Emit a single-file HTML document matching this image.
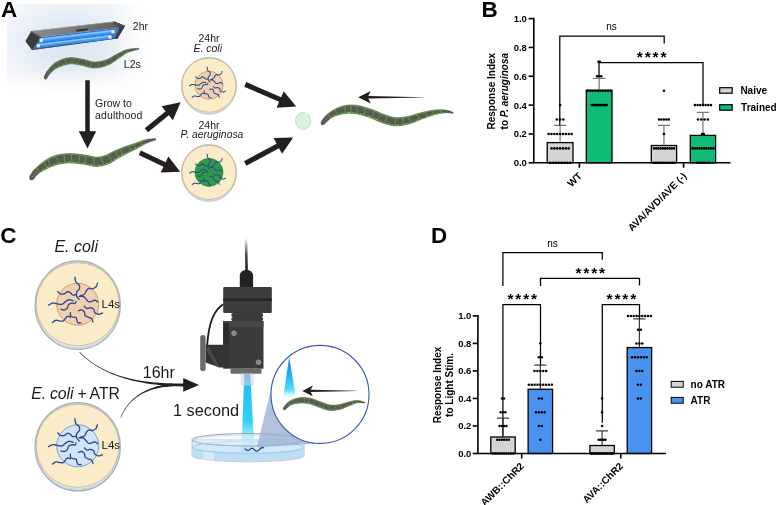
<!DOCTYPE html>
<html lang="en"><head><meta charset="utf-8"><title>Figure</title>
<style>html,body{margin:0;padding:0;background:#fff}svg{display:block}</style>
</head><body>
<svg width="777" height="505" viewBox="0 0 777 505" font-family="'Liberation Sans', Arial, sans-serif">
<defs>
<radialGradient id="glow" cx="44%" cy="42%" r="66%">
<stop offset="0" stop-color="#d9e5f1"/>
<stop offset="0.35" stop-color="#e2ebf4"/>
<stop offset="0.7" stop-color="#f0f4f9"/>
<stop offset="1" stop-color="#f9fbfd"/>
</radialGradient>
<linearGradient id="fadeR" x1="0" y1="0" x2="1" y2="0">
<stop offset="0" stop-color="#fff" stop-opacity="0"/>
<stop offset="0.85" stop-color="#fff" stop-opacity="1"/>
</linearGradient>
<linearGradient id="fadeB" x1="0" y1="0" x2="0" y2="1">
<stop offset="0" stop-color="#fff" stop-opacity="0"/>
<stop offset="0.85" stop-color="#fff" stop-opacity="1"/>
</linearGradient>
<linearGradient id="lamptop" x1="0" y1="0" x2="1" y2="0">
<stop offset="0" stop-color="#8a8a8a"/>
<stop offset="0.6" stop-color="#757575"/>
<stop offset="1" stop-color="#5a5a5a"/>
</linearGradient>
<linearGradient id="beam" x1="0" y1="0" x2="0" y2="1">
<stop offset="0" stop-color="#3a86f0"/>
<stop offset="0.06" stop-color="#2f9cf4"/>
<stop offset="0.13" stop-color="#1fc0f8"/>
<stop offset="0.7" stop-color="#2fd0fa"/>
<stop offset="0.9" stop-color="#7fe2fa" stop-opacity="0.9"/>
<stop offset="1" stop-color="#a5e9fa" stop-opacity="0.7"/>
</linearGradient>
<linearGradient id="beam2" x1="0" y1="0" x2="0" y2="1">
<stop offset="0" stop-color="#2d6ff0"/>
<stop offset="0.45" stop-color="#19b5f5"/>
<stop offset="0.8" stop-color="#5fdcfa"/>
<stop offset="1" stop-color="#ffffff" stop-opacity="0.2"/>
</linearGradient>
<linearGradient id="cable" x1="0" y1="0" x2="0" y2="1">
<stop offset="0" stop-color="#222" stop-opacity="0"/>
<stop offset="0.5" stop-color="#222" stop-opacity="0.8"/>
<stop offset="1" stop-color="#1a1a1a" stop-opacity="1"/>
</linearGradient>
<linearGradient id="tube" x1="0" y1="0" x2="0" y2="1">
<stop offset="0" stop-color="#6db6ff"/>
<stop offset="0.5" stop-color="#2a86ee"/>
<stop offset="1" stop-color="#1d6fd6"/>
</linearGradient>
</defs>
<rect width="777" height="505" fill="#fff"/>
<!-- Panel A -->
<rect x="7" y="4" width="146" height="94" fill="url(#glow)"/>
<rect x="112" y="3" width="42" height="96" fill="url(#fadeR)"/>
<rect x="6" y="70" width="148" height="29" fill="url(#fadeB)"/>
<g>
<polygon points="41.2,37 119.2,27.7 114.8,38.8 32,50.1 30,46" fill="#3576d0"/>
<polygon points="32,50.1 117.7,38.4 117.5,37.6 31.6,49.3" fill="#4a4a4a"/>
<polygon points="31.3,30.9 114.2,21.4 125.1,26 119.2,27.7 41.2,37" fill="url(#lamptop)"/>
<polygon points="31.3,30.9 114.2,21.4 114.6,22 32,31.6" fill="#a9a9a9"/>
<polygon points="31.3,30.9 41.2,37 32,50.1 25.4,41.2" fill="#3b3b3b"/>
<polygon points="31.3,30.9 41.2,37 40.4,38 30.6,32" fill="#555"/>
<polygon points="114.2,21.4 125.1,26 117.7,38.4 114.6,38.8 119.2,27.7" fill="#3b3b3b"/>
<polygon points="114.2,21.4 125.1,26 119.2,27.7 113.6,23.6" fill="#4d4d4d"/>
<rect x="-6" y="-0.85" width="12" height="1.7" rx="0.85" transform="translate(82 30) rotate(-6.6)" fill="#2b2b2b"/>
<path d="M41.2 40.3 L112.9 31.75" stroke="#479ff5" stroke-width="3.9" stroke-linecap="butt"/>
<path d="M38.4 45.6 L110 37.05" stroke="#479ff5" stroke-width="3.9" stroke-linecap="butt"/>
<path d="M41.1 39.3 L112.8 30.75" stroke="#84c4fc" stroke-width="1.4" />
<path d="M38.3 44.6 L109.9 36.05" stroke="#84c4fc" stroke-width="1.4" />
<path d="M41.4 41.9 L113.1 33.35" stroke="#2f7cdc" stroke-width="0.8" />
<path d="M38.6 47.2 L110.2 38.65" stroke="#2f7cdc" stroke-width="0.8" />
<path d="M39.6 40.5 L42.7 40.13 M111.5 31.92 L114.7 31.54 M36.8 45.8 L39.9 45.43 M108.5 37.23 L111.6 36.86" stroke="#ececec" stroke-width="3.3"/>
</g>
<g>
<path d="M44.9 79.2 L45.5 79.3 L45.82 79.22 L46.09 79.09 L46.34 78.92 L46.57 78.73 L46.79 78.52 L46.99 78.29 L47.17 78.03 L47.34 77.76 L47.5 77.47 L47.65 77.17 L47.8 76.87 L47.97 76.56 L48.14 76.25 L48.31 75.94 L48.5 75.64 L48.69 75.33 L48.89 75.03 L49.09 74.74 L49.3 74.45 L49.51 74.18 L49.73 73.92 L49.95 73.67 L50.18 73.42 L50.43 73.16 L50.71 72.88 L50.99 72.6 L51.27 72.32 L51.56 72.04 L51.86 71.76 L52.17 71.47 L52.48 71.19 L52.79 70.92 L53.11 70.64 L53.44 70.37 L53.78 70.1 L54.11 69.84 L54.46 69.58 L54.81 69.33 L55.16 69.09 L55.52 68.85 L55.88 68.62 L56.24 68.39 L56.61 68.18 L56.99 67.97 L57.36 67.78 L57.74 67.59 L58.13 67.41 L58.54 67.23 L58.98 67.04 L59.42 66.86 L59.88 66.67 L60.35 66.49 L60.84 66.31 L61.33 66.13 L61.82 65.95 L62.33 65.77 L62.84 65.6 L63.35 65.43 L63.86 65.27 L64.38 65.11 L64.9 64.95 L65.41 64.8 L65.92 64.66 L66.44 64.52 L66.94 64.39 L67.44 64.28 L67.94 64.18 L68.43 64.08 L68.91 64 L69.37 63.94 L69.82 63.88 L70.26 63.84 L70.69 63.82 L71.13 63.81 L71.57 63.81 L72.01 63.82 L72.47 63.84 L72.93 63.87 L73.39 63.92 L73.86 63.97 L74.34 64.03 L74.82 64.1 L75.31 64.18 L75.8 64.26 L76.3 64.35 L76.8 64.44 L77.31 64.54 L77.83 64.64 L78.35 64.75 L78.87 64.85 L79.41 64.96 L79.94 65.06 L80.49 65.16 L81.04 65.26 L81.56 65.35 L82.04 65.44 L82.51 65.53 L82.98 65.64 L83.46 65.75 L83.94 65.88 L84.44 66.01 L84.94 66.15 L85.45 66.29 L85.97 66.44 L86.49 66.59 L87.03 66.75 L87.57 66.9 L88.11 67.05 L88.67 67.2 L89.23 67.34 L89.81 67.48 L90.39 67.6 L90.98 67.72 L91.57 67.82 L92.18 67.91 L92.8 67.98 L93.42 68.04 L94.06 68.07 L94.69 68.07 L95.3 68.06 L95.9 68.04 L96.49 68 L97.09 67.94 L97.68 67.88 L98.27 67.8 L98.86 67.71 L99.45 67.61 L100.04 67.5 L100.62 67.38 L101.2 67.25 L101.77 67.11 L102.35 66.96 L102.91 66.81 L103.48 66.64 L104.04 66.47 L104.59 66.3 L105.14 66.11 L105.68 65.92 L106.22 65.73 L106.75 65.53 L107.27 65.33 L107.79 65.12 L108.31 64.9 L108.85 64.66 L109.39 64.41 L109.92 64.15 L110.44 63.87 L110.95 63.58 L111.46 63.29 L111.95 62.99 L112.43 62.68 L112.91 62.37 L113.38 62.06 L113.84 61.74 L114.29 61.42 L114.74 61.1 L115.18 60.79 L115.61 60.47 L116.03 60.16 L116.45 59.86 L116.86 59.56 L117.27 59.26 L117.67 58.97 L118.06 58.7 L118.44 58.43 L118.82 58.17 L119.2 57.92 L119.6 57.66 L120 57.4 L120.39 57.13 L120.77 56.87 L121.14 56.62 L121.49 56.36 L121.84 56.11 L122.19 55.87 L122.53 55.63 L122.86 55.39 L123.19 55.16 L123.51 54.93 L123.84 54.71 L124.16 54.49 L124.48 54.27 L124.81 54.06 L125.13 53.86 L125.46 53.65 L125.8 53.46 L126.14 53.27 L126.49 53.08 L126.85 52.89 L127.22 52.71 L127.6 52.54 L128 52.36 L128.43 52.19 L128.89 52.02 L129.37 51.85 L129.87 51.68 L130.39 51.51 L130.93 51.34 L131.47 51.18 L132.02 51.02 L132.58 50.86 L133.13 50.7 L133.68 50.55 L134.23 50.4 L134.76 50.26 L135.28 50.12 L135.79 49.99 L136.28 49.86 L136.74 49.74 L137.18 49.63 L137.59 49.52 L137.97 49.42 L138.32 49.32 L138.63 49.24 L138.89 49.16 L138.71 48.24 L138.44 48.27 L138.13 48.29 L137.79 48.32 L137.4 48.34 L136.98 48.37 L136.53 48.4 L136.05 48.43 L135.54 48.47 L135.02 48.5 L134.47 48.54 L133.91 48.59 L133.34 48.64 L132.76 48.69 L132.18 48.75 L131.59 48.81 L131 48.87 L130.41 48.95 L129.83 49.03 L129.25 49.11 L128.69 49.21 L128.14 49.31 L127.61 49.42 L127.09 49.54 L126.6 49.66 L126.13 49.8 L125.67 49.94 L125.22 50.09 L124.79 50.25 L124.36 50.41 L123.94 50.58 L123.53 50.75 L123.13 50.93 L122.73 51.11 L122.34 51.3 L121.96 51.49 L121.58 51.68 L121.2 51.88 L120.82 52.08 L120.45 52.27 L120.08 52.47 L119.71 52.67 L119.33 52.87 L118.96 53.07 L118.58 53.27 L118.19 53.47 L117.81 53.67 L117.41 53.87 L117 54.08 L116.55 54.3 L116.09 54.55 L115.64 54.79 L115.18 55.05 L114.73 55.3 L114.27 55.57 L113.82 55.83 L113.37 56.1 L112.91 56.36 L112.46 56.63 L112.01 56.89 L111.56 57.15 L111.11 57.41 L110.66 57.66 L110.21 57.91 L109.77 58.15 L109.32 58.38 L108.88 58.6 L108.44 58.81 L108.01 59.02 L107.57 59.21 L107.15 59.38 L106.72 59.55 L106.29 59.7 L105.83 59.85 L105.35 60.01 L104.87 60.16 L104.39 60.31 L103.9 60.46 L103.42 60.6 L102.92 60.73 L102.43 60.86 L101.94 60.98 L101.44 61.1 L100.95 61.21 L100.45 61.31 L99.96 61.41 L99.46 61.5 L98.97 61.58 L98.48 61.66 L98 61.72 L97.51 61.78 L97.03 61.83 L96.55 61.87 L96.08 61.9 L95.62 61.92 L95.16 61.93 L94.71 61.93 L94.29 61.91 L93.88 61.88 L93.45 61.84 L93.02 61.79 L92.58 61.72 L92.12 61.63 L91.66 61.54 L91.19 61.43 L90.72 61.32 L90.23 61.2 L89.74 61.07 L89.23 60.93 L88.72 60.78 L88.21 60.63 L87.68 60.48 L87.15 60.33 L86.61 60.18 L86.06 60.03 L85.51 59.88 L84.94 59.73 L84.37 59.6 L83.79 59.47 L83.21 59.35 L82.64 59.25 L82.11 59.16 L81.61 59.07 L81.11 58.97 L80.6 58.87 L80.08 58.77 L79.56 58.67 L79.03 58.56 L78.5 58.46 L77.96 58.35 L77.41 58.25 L76.86 58.15 L76.31 58.06 L75.75 57.97 L75.18 57.89 L74.6 57.81 L74.02 57.75 L73.44 57.69 L72.85 57.65 L72.25 57.62 L71.64 57.61 L71.03 57.61 L70.42 57.62 L69.8 57.66 L69.18 57.72 L68.56 57.79 L67.95 57.88 L67.34 57.98 L66.73 58.09 L66.12 58.22 L65.51 58.36 L64.89 58.51 L64.28 58.68 L63.67 58.85 L63.07 59.04 L62.47 59.23 L61.87 59.44 L61.29 59.66 L60.71 59.89 L60.13 60.13 L59.57 60.38 L59.02 60.64 L58.47 60.9 L57.94 61.17 L57.42 61.45 L56.91 61.73 L56.42 62.01 L55.94 62.3 L55.47 62.59 L55 62.89 L54.54 63.21 L54.09 63.54 L53.66 63.88 L53.23 64.22 L52.82 64.57 L52.43 64.92 L52.04 65.28 L51.67 65.65 L51.3 66.01 L50.95 66.38 L50.61 66.75 L50.28 67.11 L49.96 67.48 L49.65 67.85 L49.35 68.21 L49.05 68.57 L48.77 68.93 L48.49 69.29 L48.22 69.64 L47.96 69.98 L47.71 70.32 L47.47 70.65 L47.22 70.98 L46.97 71.34 L46.72 71.71 L46.48 72.09 L46.25 72.46 L46.04 72.84 L45.83 73.22 L45.64 73.6 L45.45 73.98 L45.27 74.35 L45.1 74.72 L44.94 75.08 L44.78 75.43 L44.64 75.77 L44.49 76.11 L44.37 76.43 L44.28 76.75 L44.21 77.07 L44.18 77.37 L44.17 77.67 L44.18 77.96 L44.23 78.23 L44.32 78.5 L44.46 78.78 L44.9 79.2Z" fill="#5a5759" stroke="#484648" stroke-width="0.5" stroke-linejoin="round"/>
<path d="M50.6 72.53 L51.48 71.66 L52.37 70.83 L53.27 70.04 L54.2 69.31 L55.17 68.61 L56.13 67.99 L57.09 67.44 L58.15 66.92 L59.22 66.45 L60.34 65.99 L61.47 65.57 L62.61 65.17 L63.72 64.8 L64.86 64.45 L66.01 64.12 L67.16 63.84 L68.31 63.6 L69.38 63.44 L70.49 63.33 L71.56 63.31 L72.72 63.36 L73.89 63.47 L75.04 63.63 L76.26 63.84 L77.47 64.07 L78.72 64.32 L79.99 64.57 L81.29 64.8 L82.45 65.02 L83.58 65.27 L84.77 65.59 L85.98 65.93 L87.22 66.29 L88.5 66.64 L89.81 66.97 L91.22 67.26 L92.63 67.47 L94.07 67.57 L95.56 67.56 L96.94 67.47 L98.35 67.3 L99.7 67.07 L101.03 66.8 L102.37 66.47 L103.66 66.1 L104.93 65.7 L106.21 65.25 L107.45 64.77 L108.76 64.22 L110 63.61 L111.19 62.95 L112.35 62.23 L113.45 61.51 L114.53 60.76 L115.57 60.01 L116.6 59.27 L117.61 58.56 L118.63 57.87 L119.71 57.17 L120.8 56.45 L121.85 55.71 L122.89 54.99 L123.91 54.3 L124.94 53.65 L125.98 53.05 L127.05 52.52 L128.14 52.05 L129.31 51.64 L130.49 51.27 L131.7 50.92" fill="none" stroke="#5ccc1f" stroke-width="0.42" stroke-linecap="round"/>
<path d="M48.08 70.35 L48.9 69.31 L49.75 68.27 L50.65 67.26 L51.6 66.26 L52.58 65.32 L53.66 64.41 L54.82 63.54 L55.98 62.8 L57.18 62.1 L58.37 61.48 L59.59 60.9 L60.82 60.37 L62.12 59.88 L63.4 59.45 L64.71 59.08 L66.04 58.75 L67.39 58.47 L68.84 58.26 L70.27 58.13 L71.76 58.11 L73.15 58.17 L74.51 58.3 L75.89 58.5 L77.19 58.72 L78.48 58.96 L79.73 59.21 L80.97 59.45 L82.19 59.67 L83.53 59.92 L84.89 60.23 L86.17 60.57 L87.42 60.92 L88.62 61.27 L89.81 61.6 L90.97 61.89 L92.06 62.13 L93.17 62.3 L94.27 62.4 L95.33 62.41 L96.5 62.36 L97.62 62.25 L98.8 62.1 L99.98 61.89 L101.13 61.66 L102.31 61.37 L103.48 61.06 L104.63 60.72 L105.8 60.34 L106.86 59.97 L107.95 59.52 L109.02 59.01 L110.07 58.46 L111.15 57.86 L112.23 57.23 L113.32 56.58 L114.42 55.92 L115.56 55.26 L116.72 54.62 L117.86 54.04 L118.96 53.45 L120.07 52.84 L121.21 52.22 L122.38 51.61 L123.59 51.03 L124.84 50.51 L126.12 50.06 L127.44 49.69 L128.74 49.42 L130.04 49.2 L131.32 49.02" fill="none" stroke="#5ccc1f" stroke-width="0.42" stroke-linecap="round"/>
<path d="M50.6 72.53Q49.38 71.4 47.88 70.62M55.56 68.35Q54.4 66.55 52.12 65.75M59.69 66.26Q59.07 63.87 57.08 62.16M66.07 64.1Q66.03 61.43 64.7 59.08M73.23 63.4Q73.46 60.81 74.16 58.26M77.81 64.14Q78.49 61.61 79.74 59.21M85.02 65.66Q86.02 63.23 86.86 60.76M90.46 67.11Q91.32 64.63 91.71 62.05M98.55 67.27Q97.59 64.82 98.65 62.12M105.81 65.39Q105.3 63.02 105.14 60.56M112.76 61.97Q112.06 59.83 110.24 58.37M118.34 58.06Q117.32 56.46 117.41 54.27M123.99 54.25Q122.78 53.16 121.61 52.01M128.08 52.08Q128.3 50.72 127.23 49.75" fill="none" stroke="#5ccc1f" stroke-width="0.42"/>
<g fill="#93e01f"><circle cx="54.13" cy="69.15" r="0.4"/><circle cx="52.63" cy="70.4" r="0.4"/><circle cx="57.66" cy="66.95" r="0.4"/><circle cx="63.17" cy="64.76" r="0.4"/><circle cx="63.16" cy="64.76" r="0.4"/><circle cx="70.56" cy="63.12" r="0.4"/><circle cx="76.67" cy="63.7" r="0.4"/><circle cx="82.43" cy="64.8" r="0.4"/><circle cx="79.83" cy="64.32" r="0.4"/><circle cx="89.53" cy="66.69" r="0.4"/><circle cx="94.98" cy="67.37" r="0.4"/><circle cx="95.77" cy="67.34" r="0.4"/><circle cx="102.88" cy="66.12" r="0.4"/><circle cx="108.17" cy="64.28" r="0.4"/><circle cx="107.42" cy="64.58" r="0.4"/><circle cx="116.9" cy="58.87" r="0.4"/><circle cx="119.48" cy="57.15" r="0.4"/><circle cx="125.68" cy="53.09" r="0.4"/><circle cx="46.37" cy="76.39" r="0.34"/><circle cx="47.33" cy="74.52" r="0.34"/><circle cx="48.36" cy="72.94" r="0.34"/></g>
</g>
<g font-size="10.5px" fill="#1a1a1a">
<text x="132.8" y="30.3">2hr</text>
<text x="123.8" y="67.5">L2s</text>
<text x="95" y="106.8">Grow to</text>
<text x="95" y="118.8" letter-spacing="0.15">adulthood</text>
<text x="209" y="42" text-anchor="middle">24hr</text>
<text x="207.7" y="51.7" text-anchor="middle" font-style="italic">E. coli</text>
<text x="209" y="128.6" text-anchor="middle">24hr</text>
<text x="212" y="137.7" text-anchor="middle" font-style="italic" font-size="10.4px">P. aeruginosa</text>
</g>
<polygon points="85.25,80.3 85.25,131.2 78.8,131.2 87.5,148.6 96.2,131.2 89.75,131.2 89.75,80.3" fill="#231f20"/>
<polygon points="148.02,132.27 168.83,115.23 172.85,120.15 180.6,102.3 161.58,106.37 165.6,111.29 144.78,128.33" fill="#231f20"/>
<polygon points="138.71,155.11 163.46,166.74 160.76,172.49 180.2,171.8 168.33,156.38 165.63,162.13 140.89,150.49" fill="#231f20"/>
<polygon points="244.19,86.74 279.12,101.81 276.57,107.73 296.2,106.4 283.7,91.2 281.14,97.13 246.21,82.06" fill="#231f20"/>
<polygon points="246.41,165.74 279.01,148.15 282.07,153.83 293.2,137.6 273.53,137.99 276.59,143.67 243.99,161.26" fill="#231f20"/>
<g>
<path d="M30.5 179.8 L31.33 180.09 L31.78 180.08 L32.17 179.99 L32.53 179.85 L32.88 179.68 L33.2 179.47 L33.5 179.24 L33.79 178.97 L34.06 178.69 L34.31 178.37 L34.54 178.04 L34.78 177.7 L35.02 177.36 L35.27 177.01 L35.53 176.67 L35.79 176.33 L36.06 176 L36.33 175.68 L36.61 175.36 L36.88 175.06 L37.16 174.78 L37.44 174.51 L37.72 174.26 L38 174.02 L38.29 173.78 L38.61 173.53 L38.95 173.28 L39.3 173.03 L39.67 172.78 L40.04 172.52 L40.43 172.27 L40.83 172.01 L41.23 171.76 L41.65 171.51 L42.07 171.26 L42.49 171.02 L42.92 170.77 L43.36 170.53 L43.79 170.29 L44.23 170.06 L44.66 169.83 L45.1 169.6 L45.53 169.38 L45.96 169.16 L46.38 168.95 L46.8 168.74 L47.22 168.54 L47.62 168.34 L48.02 168.15 L48.42 167.96 L48.81 167.78 L49.19 167.6 L49.57 167.42 L49.94 167.26 L50.31 167.09 L50.68 166.93 L51.04 166.78 L51.4 166.63 L51.76 166.48 L52.11 166.34 L52.46 166.2 L52.82 166.07 L53.17 165.94 L53.52 165.81 L53.87 165.69 L54.23 165.57 L54.58 165.45 L54.94 165.34 L55.3 165.23 L55.67 165.12 L56.04 165.01 L56.41 164.91 L56.79 164.81 L57.17 164.71 L57.56 164.61 L57.97 164.51 L58.38 164.41 L58.8 164.32 L59.22 164.22 L59.65 164.13 L60.08 164.04 L60.52 163.95 L60.96 163.86 L61.41 163.78 L61.85 163.7 L62.3 163.63 L62.75 163.56 L63.19 163.49 L63.63 163.43 L64.08 163.37 L64.51 163.31 L64.95 163.26 L65.38 163.21 L65.8 163.16 L66.21 163.12 L66.62 163.08 L67 163.05 L67.37 163.02 L67.74 163 L68.11 162.98 L68.47 162.97 L68.82 162.96 L69.18 162.95 L69.53 162.95 L69.89 162.95 L70.24 162.96 L70.6 162.97 L70.96 162.98 L71.32 162.99 L71.68 163.01 L72.05 163.03 L72.43 163.05 L72.8 163.07 L73.19 163.1 L73.58 163.13 L73.97 163.16 L74.38 163.19 L74.79 163.22 L75.21 163.25 L75.63 163.29 L76.03 163.32 L76.44 163.35 L76.85 163.39 L77.27 163.43 L77.69 163.48 L78.11 163.53 L78.54 163.58 L78.98 163.63 L79.41 163.68 L79.85 163.74 L80.3 163.8 L80.74 163.86 L81.19 163.92 L81.63 163.98 L82.08 164.05 L82.53 164.11 L82.98 164.18 L83.43 164.24 L83.87 164.31 L84.32 164.38 L84.77 164.44 L85.21 164.51 L85.65 164.58 L86.07 164.64 L86.45 164.7 L86.81 164.77 L87.18 164.84 L87.56 164.92 L87.94 165 L88.34 165.09 L88.74 165.19 L89.16 165.29 L89.58 165.39 L90.01 165.49 L90.45 165.6 L90.9 165.7 L91.36 165.81 L91.83 165.91 L92.3 166.01 L92.79 166.1 L93.29 166.19 L93.8 166.26 L94.32 166.33 L94.85 166.39 L95.4 166.44 L95.95 166.47 L96.52 166.48 L97.08 166.47 L97.61 166.45 L98.12 166.42 L98.63 166.38 L99.14 166.33 L99.64 166.27 L100.14 166.2 L100.63 166.12 L101.12 166.04 L101.61 165.94 L102.09 165.84 L102.57 165.73 L103.05 165.61 L103.52 165.49 L103.99 165.36 L104.45 165.23 L104.91 165.09 L105.37 164.94 L105.82 164.79 L106.27 164.64 L106.72 164.48 L107.16 164.31 L107.6 164.15 L108.04 163.98 L108.49 163.8 L108.97 163.6 L109.46 163.38 L109.94 163.16 L110.41 162.93 L110.88 162.69 L111.33 162.45 L111.77 162.2 L112.21 161.95 L112.64 161.7 L113.06 161.45 L113.48 161.19 L113.89 160.94 L114.29 160.68 L114.69 160.43 L115.08 160.18 L115.46 159.94 L115.84 159.69 L116.22 159.46 L116.59 159.22 L116.95 159 L117.31 158.78 L117.66 158.57 L118 158.36 L118.35 158.16 L118.72 157.95 L119.11 157.74 L119.49 157.52 L119.87 157.31 L120.25 157.1 L120.62 156.89 L121 156.68 L121.38 156.48 L121.76 156.27 L122.13 156.06 L122.51 155.86 L122.89 155.65 L123.26 155.45 L123.64 155.24 L124.01 155.04 L124.39 154.84 L124.77 154.64 L125.15 154.44 L125.52 154.23 L125.9 154.03 L126.28 153.83 L126.66 153.64 L127.04 153.44 L127.42 153.24 L127.8 153.04 L128.17 152.85 L128.55 152.66 L128.93 152.47 L129.31 152.28 L129.69 152.09 L130.08 151.9 L130.46 151.72 L130.85 151.53 L131.24 151.34 L131.64 151.15 L132.03 150.96 L132.42 150.77 L132.82 150.58 L133.22 150.39 L133.62 150.19 L134.03 150 L134.43 149.8 L134.84 149.6 L135.24 149.4 L135.65 149.19 L136.06 148.98 L136.47 148.77 L136.89 148.56 L137.31 148.34 L137.74 148.11 L138.16 147.88 L138.58 147.64 L139 147.41 L139.42 147.17 L139.83 146.93 L140.24 146.69 L140.66 146.45 L141.07 146.21 L141.48 145.97 L141.88 145.73 L142.29 145.49 L142.69 145.26 L143.09 145.03 L143.49 144.8 L143.89 144.58 L144.28 144.36 L144.67 144.15 L145.06 143.94 L145.44 143.74 L145.82 143.55 L146.2 143.36 L146.57 143.18 L146.95 143.01 L147.35 142.84 L147.76 142.67 L148.18 142.5 L148.62 142.33 L149.06 142.16 L149.5 142 L149.95 141.84 L150.4 141.68 L150.85 141.53 L151.3 141.38 L151.74 141.23 L152.17 141.09 L152.59 140.95 L153 140.82 L153.4 140.69 L153.78 140.57 L154.15 140.45 L154.49 140.34 L154.82 140.24 L155.12 140.14 L155.39 140.05 L155.64 139.96 L155.86 139.89 L155.54 138.51 L155.32 138.54 L155.07 138.56 L154.79 138.59 L154.49 138.61 L154.15 138.64 L153.79 138.67 L153.41 138.7 L153.01 138.74 L152.59 138.78 L152.15 138.82 L151.7 138.86 L151.24 138.91 L150.77 138.96 L150.29 139.01 L149.8 139.07 L149.31 139.13 L148.81 139.2 L148.32 139.27 L147.82 139.35 L147.33 139.43 L146.85 139.51 L146.36 139.61 L145.89 139.71 L145.43 139.82 L144.97 139.93 L144.51 140.05 L144.05 140.18 L143.59 140.32 L143.13 140.46 L142.67 140.61 L142.21 140.76 L141.75 140.91 L141.3 141.07 L140.84 141.23 L140.38 141.39 L139.93 141.56 L139.48 141.73 L139.03 141.89 L138.58 142.06 L138.13 142.22 L137.69 142.39 L137.25 142.55 L136.82 142.71 L136.39 142.86 L135.96 143.02 L135.54 143.16 L135.12 143.3 L134.71 143.44 L134.29 143.58 L133.87 143.72 L133.46 143.85 L133.04 143.98 L132.62 144.12 L132.2 144.25 L131.78 144.38 L131.36 144.51 L130.94 144.64 L130.52 144.77 L130.1 144.91 L129.68 145.04 L129.26 145.17 L128.84 145.31 L128.42 145.44 L127.99 145.58 L127.57 145.72 L127.15 145.86 L126.72 146 L126.29 146.15 L125.86 146.3 L125.44 146.45 L125.01 146.6 L124.58 146.76 L124.15 146.92 L123.73 147.08 L123.32 147.23 L122.9 147.39 L122.48 147.55 L122.07 147.72 L121.65 147.88 L121.24 148.04 L120.83 148.21 L120.41 148.37 L120 148.54 L119.59 148.71 L119.18 148.88 L118.77 149.05 L118.36 149.22 L117.95 149.4 L117.54 149.57 L117.13 149.75 L116.72 149.93 L116.3 150.11 L115.89 150.29 L115.48 150.47 L115.07 150.65 L114.65 150.84 L114.2 151.05 L113.75 151.26 L113.31 151.48 L112.87 151.7 L112.44 151.92 L112.01 152.15 L111.59 152.37 L111.17 152.59 L110.76 152.81 L110.36 153.03 L109.96 153.24 L109.56 153.45 L109.17 153.66 L108.79 153.86 L108.41 154.05 L108.04 154.23 L107.68 154.41 L107.32 154.58 L106.97 154.74 L106.62 154.89 L106.29 155.04 L105.96 155.17 L105.64 155.29 L105.31 155.4 L104.95 155.52 L104.57 155.65 L104.2 155.77 L103.82 155.88 L103.45 156 L103.08 156.1 L102.72 156.21 L102.36 156.31 L102 156.4 L101.64 156.49 L101.28 156.57 L100.93 156.65 L100.58 156.72 L100.23 156.79 L99.89 156.85 L99.55 156.9 L99.21 156.95 L98.87 157 L98.54 157.03 L98.21 157.07 L97.88 157.09 L97.55 157.11 L97.23 157.12 L96.92 157.13 L96.64 157.12 L96.37 157.11 L96.09 157.09 L95.79 157.06 L95.49 157.03 L95.17 156.98 L94.84 156.93 L94.5 156.86 L94.14 156.79 L93.78 156.72 L93.4 156.63 L93.01 156.55 L92.61 156.45 L92.21 156.35 L91.78 156.25 L91.35 156.15 L90.91 156.04 L90.46 155.94 L89.99 155.83 L89.52 155.73 L89.03 155.63 L88.54 155.53 L88.03 155.44 L87.53 155.36 L87.07 155.29 L86.63 155.22 L86.18 155.15 L85.73 155.08 L85.27 155.01 L84.81 154.95 L84.35 154.88 L83.89 154.81 L83.42 154.74 L82.95 154.67 L82.48 154.61 L82.01 154.54 L81.54 154.48 L81.06 154.42 L80.59 154.36 L80.12 154.3 L79.65 154.24 L79.17 154.19 L78.7 154.13 L78.23 154.08 L77.76 154.04 L77.29 153.99 L76.83 153.95 L76.37 153.91 L75.94 153.88 L75.52 153.85 L75.1 153.82 L74.68 153.78 L74.26 153.75 L73.84 153.72 L73.42 153.69 L73 153.67 L72.57 153.64 L72.15 153.62 L71.72 153.6 L71.29 153.58 L70.86 153.57 L70.42 153.56 L69.98 153.55 L69.53 153.55 L69.08 153.55 L68.63 153.56 L68.17 153.57 L67.7 153.59 L67.23 153.61 L66.75 153.64 L66.27 153.68 L65.78 153.72 L65.3 153.76 L64.82 153.81 L64.33 153.87 L63.84 153.92 L63.34 153.98 L62.84 154.05 L62.33 154.12 L61.82 154.19 L61.3 154.27 L60.78 154.35 L60.26 154.44 L59.74 154.53 L59.22 154.63 L58.7 154.73 L58.18 154.83 L57.65 154.94 L57.13 155.06 L56.62 155.19 L56.1 155.32 L55.59 155.46 L55.08 155.61 L54.58 155.76 L54.08 155.92 L53.59 156.09 L53.11 156.27 L52.64 156.45 L52.18 156.64 L51.72 156.83 L51.27 157.02 L50.83 157.23 L50.39 157.44 L49.96 157.65 L49.54 157.87 L49.12 158.09 L48.7 158.32 L48.29 158.55 L47.88 158.78 L47.48 159.03 L47.08 159.27 L46.69 159.52 L46.29 159.77 L45.9 160.03 L45.51 160.29 L45.13 160.56 L44.74 160.83 L44.35 161.1 L43.97 161.38 L43.58 161.66 L43.18 161.95 L42.78 162.25 L42.38 162.55 L41.97 162.86 L41.56 163.18 L41.14 163.51 L40.72 163.84 L40.3 164.18 L39.88 164.52 L39.46 164.87 L39.04 165.22 L38.62 165.57 L38.2 165.93 L37.79 166.29 L37.38 166.65 L36.98 167.02 L36.58 167.38 L36.19 167.75 L35.8 168.12 L35.43 168.49 L35.06 168.86 L34.7 169.23 L34.35 169.6 L34 169.98 L33.66 170.37 L33.32 170.78 L32.99 171.2 L32.68 171.62 L32.38 172.05 L32.09 172.48 L31.8 172.9 L31.53 173.33 L31.26 173.75 L31.01 174.16 L30.76 174.57 L30.52 174.98 L30.29 175.37 L30.08 175.75 L29.9 176.14 L29.76 176.52 L29.65 176.91 L29.59 177.29 L29.56 177.66 L29.57 178.03 L29.62 178.4 L29.73 178.76 L29.92 179.15 L30.5 179.8Z" fill="#5a5759" stroke="#484648" stroke-width="0.5" stroke-linejoin="round"/>
<path d="M39.2 172.52 L40.5 171.63 L41.83 170.8 L43.21 169.99 L44.62 169.2 L46.04 168.45 L47.47 167.72 L48.9 167.02 L50.34 166.35 L51.74 165.74 L53.14 165.19 L54.53 164.71 L55.93 164.28 L57.34 163.9 L58.83 163.54 L60.34 163.22 L61.85 162.94 L63.41 162.7 L64.94 162.5 L66.51 162.34 L67.99 162.23 L69.48 162.2 L70.97 162.23 L72.54 162.3 L74.16 162.42 L75.79 162.54 L77.35 162.69 L78.95 162.87 L80.54 163.07 L82.16 163.3 L83.78 163.53 L85.41 163.78 L86.93 164.03 L88.39 164.33 L89.97 164.71 L91.69 165.11 L93.57 165.47 L95.62 165.7 L97.7 165.7 L99.65 165.52 L101.54 165.2 L103.32 164.78 L105.09 164.26 L106.81 163.67 L108.53 163.01 L110.29 162.19 L111.91 161.32 L113.4 160.43 L114.82 159.54 L116.2 158.68 L117.51 157.88 L118.91 157.11 L120.35 156.32 L121.79 155.54 L123.24 154.77 L124.69 154.01 L126.14 153.26 L127.58 152.53 L129.04 151.81 L130.52 151.11 L132.02 150.41 L133.53 149.69 L135.05 148.97 L136.58 148.22 L138.11 147.42 L139.59 146.6 L141.05 145.78 L142.48 144.97 L143.9 144.19 L145.32 143.46 L146.77 142.79" fill="none" stroke="#5ccc1f" stroke-width="0.65" stroke-linecap="round"/>
<path d="M35.98 168.62 L37.27 167.43 L38.61 166.28 L39.95 165.18 L41.31 164.11 L42.68 163.08 L44.09 162.06 L45.52 161.07 L46.99 160.12 L48.54 159.2 L50.15 158.35 L51.83 157.57 L53.57 156.89 L55.35 156.31 L57.08 155.85 L58.81 155.47 L60.58 155.15 L62.31 154.88 L64.07 154.65 L65.81 154.47 L67.65 154.35 L69.48 154.3 L71.31 154.34 L73.06 154.43 L74.76 154.54 L76.45 154.68 L78.2 154.84 L79.9 155.03 L81.61 155.25 L83.28 155.48 L84.95 155.73 L86.6 155.98 L88.38 156.26 L90.17 156.64 L91.82 157.03 L93.33 157.39 L94.72 157.67 L95.97 157.84 L97.22 157.87 L98.58 157.78 L99.97 157.59 L101.44 157.29 L102.87 156.92 L104.32 156.49 L105.72 156.02 L107 155.5 L108.35 154.87 L109.76 154.13 L111.21 153.35 L112.71 152.54 L114.31 151.72 L115.88 151 L117.42 150.31 L118.96 149.64 L120.52 148.99 L122.09 148.34 L123.66 147.72 L125.26 147.11 L126.86 146.53 L128.47 145.98 L130.06 145.45 L131.63 144.94 L133.2 144.42 L134.74 143.9 L136.25 143.36 L137.79 142.78 L139.35 142.18 L140.92 141.58 L142.53 141 L144.19 140.46 L145.87 140" fill="none" stroke="#5ccc1f" stroke-width="0.65" stroke-linecap="round"/>
<path d="M39.2 172.52Q37.9 170.31 36.74 167.91M46.58 168.17Q45.24 165.22 44.4 161.84M50.41 166.32Q48.71 163.21 48.46 159.25M58.54 163.61Q58.27 159.62 55.39 156.29M64.85 162.51Q63.99 158.64 64.12 154.65M72.01 162.27Q71.42 158.29 71.46 154.34M78.25 162.78Q79.39 158.94 80.08 155.05M85.14 163.74Q86.22 159.91 85.14 155.75M94.05 165.54Q93.93 161.53 93.69 157.47M103.76 164.66Q102.31 161.05 100.98 157.39M111.84 161.36Q110.62 157.82 107.74 155.16M118.08 157.56Q116.6 154.45 115.54 151.15M122.41 155.21Q121.68 151.97 120.22 149.11M131.18 150.8Q130.78 148.03 128.53 145.96M136.18 148.42Q134.75 146.44 133.25 144.41M141.98 145.25Q140.88 143.66 140.69 141.66" fill="none" stroke="#5ccc1f" stroke-width="0.65"/>
<g fill="#93e01f"><circle cx="43.15" cy="169.75" r="0.62"/><circle cx="47.95" cy="167.18" r="0.62"/><circle cx="47.87" cy="167.22" r="0.62"/><circle cx="54.2" cy="164.5" r="0.62"/><circle cx="60.21" cy="162.92" r="0.62"/><circle cx="69.43" cy="161.88" r="0.62"/><circle cx="74.09" cy="162.1" r="0.62"/><circle cx="83.89" cy="163.23" r="0.62"/><circle cx="91.47" cy="164.74" r="0.62"/><circle cx="99.4" cy="165.23" r="0.62"/><circle cx="107" cy="163.28" r="0.62"/><circle cx="116.41" cy="158.21" r="0.62"/><circle cx="114.75" cy="159.24" r="0.62"/><circle cx="119.16" cy="156.66" r="0.62"/><circle cx="121.51" cy="155.4" r="0.62"/><circle cx="124.33" cy="153.91" r="0.62"/><circle cx="135.11" cy="148.73" r="0.62"/><circle cx="138.44" cy="147.04" r="0.62"/><circle cx="32.89" cy="176.43" r="0.52"/><circle cx="34.46" cy="174.19" r="0.52"/><circle cx="36.06" cy="172.35" r="0.52"/></g>
</g>
<ellipse cx="209" cy="85.82" rx="27.6" ry="28.58" fill="#e6ebf2" stroke="#a3afc2" stroke-width="0.5"/>
<ellipse cx="209" cy="85.54" rx="27.4" ry="27.96" fill="none" stroke="#b4bfce" stroke-width="0.6"/>
<circle cx="209" cy="85.2" r="27.03" fill="#fbecc9" stroke="#c7a76c" stroke-width="0.7"/>
<circle cx="209" cy="85.2" r="14" fill="#efd0b0" stroke="#c98a5a" stroke-width="0.8"/>
<path d="M207.18 67.14 L207.22 67.49 L207.25 67.98 L207.3 68.56 L207.39 69.17 L207.52 69.75 L207.71 70.26 L208.01 70.67 L208.42 71.05 L208.87 71.39 L209.32 71.73 L209.7 72.08 L209.98 72.46 L210.15 72.87 L210.26 73.31 L210.31 73.76 L210.3 74.2 L210.24 74.62 L210.14 75.02 L209.94 75.37 L209.65 75.67 L209.31 75.96 L208.96 76.26 L208.66 76.58 L208.44 76.94 L208.3 77.36 L208.2 77.83 L208.14 78.32 L208.13 78.82 L208.17 79.3 L208.27 79.75 L208.47 80.18 L208.77 80.62 L209.12 81.04 L209.47 81.42 L209.77 81.74 L209.98 81.98M222.16 71.2 L222.06 71.5 L221.92 71.92 L221.76 72.41 L221.56 72.92 L221.33 73.39 L221.05 73.77 L220.7 74.07 L220.3 74.33 L219.85 74.55 L219.39 74.74 L218.94 74.88 L218.52 74.98 L218.13 75 L217.74 74.92 L217.36 74.81 L217 74.7 L216.65 74.64 L216.32 74.68 L216.02 74.82 L215.74 75.03 L215.48 75.29 L215.23 75.59 L214.98 75.91 L214.74 76.24 L214.52 76.61 L214.32 77.03 L214.13 77.47 L213.93 77.9 L213.69 78.29 L213.4 78.61 L213.01 78.85 L212.54 79.04 L212.03 79.18 L211.54 79.3 L211.12 79.38 L210.82 79.46M195.7 76.66 L195.91 76.87 L196.2 77.17 L196.54 77.52 L196.91 77.87 L197.31 78.16 L197.7 78.36 L198.11 78.45 L198.56 78.49 L199.03 78.47 L199.49 78.41 L199.93 78.31 L200.32 78.2 L200.65 78.03 L200.94 77.78 L201.21 77.49 L201.47 77.22 L201.74 77.01 L202.03 76.89 L202.36 76.87 L202.71 76.91 L203.07 77.01 L203.43 77.15 L203.78 77.32 L204.1 77.5 L204.38 77.73 L204.64 78.02 L204.88 78.34 L205.13 78.64 L205.39 78.9 L205.68 79.06 L206.04 79.11 L206.45 79.09 L206.88 79.01 L207.29 78.91 L207.63 78.81 L207.88 78.76M189.54 85.76 L189.87 85.59 L190.32 85.34 L190.86 85.06 L191.44 84.78 L192.03 84.56 L192.58 84.44 L193.12 84.43 L193.67 84.52 L194.23 84.65 L194.78 84.81 L195.32 84.96 L195.84 85.06 L196.34 85.14 L196.83 85.22 L197.31 85.29 L197.77 85.33 L198.22 85.31 L198.65 85.23 L199.05 85.05 L199.43 84.78 L199.79 84.47 L200.15 84.13 L200.51 83.8 L200.88 83.52 L201.27 83.26 L201.65 82.98 L202.05 82.71 L202.44 82.48 L202.85 82.3 L203.27 82.2 L203.72 82.2 L204.23 82.29 L204.74 82.43 L205.22 82.59 L205.63 82.73 L205.92 82.82M197.8 88.56 L198.06 88.63 L198.43 88.75 L198.87 88.88 L199.33 88.99 L199.79 89.05 L200.19 89.03 L200.55 88.9 L200.91 88.72 L201.25 88.47 L201.58 88.19 L201.88 87.89 L202.14 87.58 L202.34 87.24 L202.48 86.84 L202.59 86.42 L202.7 86.01 L202.85 85.63 L203.07 85.33 L203.38 85.1 L203.76 84.91 L204.17 84.76 L204.59 84.64 L205 84.56 L205.36 84.5 L205.69 84.5 L206 84.57 L206.3 84.67 L206.58 84.75 L206.83 84.79 L207.06 84.75 L207.26 84.58 L207.43 84.32 L207.58 84.01 L207.7 83.7 L207.8 83.42 L207.88 83.24M209.98 80.02 L210.29 80.01 L210.72 79.97 L211.23 79.94 L211.77 79.93 L212.29 79.98 L212.73 80.09 L213.12 80.31 L213.47 80.6 L213.81 80.94 L214.13 81.31 L214.44 81.66 L214.74 81.98 L215.02 82.28 L215.28 82.59 L215.52 82.9 L215.76 83.17 L216.03 83.39 L216.32 83.54 L216.65 83.6 L217.01 83.59 L217.39 83.53 L217.78 83.44 L218.16 83.33 L218.52 83.24 L218.87 83.13 L219.22 82.97 L219.57 82.8 L219.9 82.65 L220.23 82.56 L220.55 82.55 L220.88 82.66 L221.22 82.87 L221.55 83.13 L221.86 83.4 L222.11 83.64 L222.3 83.8M213.48 86.6 L213.65 86.78 L213.89 87.04 L214.17 87.35 L214.48 87.65 L214.8 87.89 L215.12 88.04 L215.45 88.06 L215.79 87.98 L216.15 87.84 L216.52 87.7 L216.89 87.6 L217.26 87.58 L217.65 87.64 L218.07 87.73 L218.49 87.87 L218.89 88.04 L219.26 88.25 L219.56 88.5 L219.78 88.81 L219.91 89.21 L220.01 89.64 L220.11 90.07 L220.25 90.47 L220.48 90.8 L220.8 91.08 L221.18 91.33 L221.61 91.56 L222.06 91.73 L222.51 91.86 L222.95 91.92 L223.4 91.88 L223.89 91.75 L224.39 91.57 L224.85 91.37 L225.24 91.19 L225.52 91.08M209.56 89.54 L209.8 89.46 L210.14 89.33 L210.53 89.18 L210.95 89.06 L211.36 88.99 L211.73 89 L212.06 89.11 L212.39 89.28 L212.71 89.51 L213.01 89.78 L213.27 90.07 L213.48 90.38 L213.61 90.73 L213.67 91.13 L213.69 91.55 L213.72 91.98 L213.79 92.37 L213.94 92.7 L214.19 92.97 L214.5 93.19 L214.86 93.38 L215.24 93.55 L215.62 93.71 L216 93.88 L216.39 94.03 L216.8 94.15 L217.22 94.27 L217.63 94.4 L218 94.57 L218.3 94.8 L218.55 95.13 L218.75 95.55 L218.91 96.01 L219.03 96.45 L219.14 96.83 L219.22 97.1M204.1 90.8 L204.11 91.04 L204.1 91.38 L204.1 91.78 L204.13 92.2 L204.2 92.58 L204.34 92.89 L204.56 93.13 L204.84 93.33 L205.17 93.5 L205.53 93.65 L205.88 93.77 L206.2 93.88 L206.51 93.95 L206.84 93.96 L207.17 93.96 L207.48 93.96 L207.75 94.01 L207.97 94.12 L208.11 94.32 L208.2 94.59 L208.26 94.89 L208.3 95.21 L208.35 95.54 L208.44 95.84 L208.55 96.15 L208.66 96.48 L208.78 96.81 L208.92 97.12 L209.1 97.38 L209.31 97.57 L209.59 97.68 L209.94 97.73 L210.33 97.72 L210.7 97.7 L211.02 97.67 L211.24 97.66M192.2 97.38 L192.44 97.2 L192.77 96.93 L193.16 96.63 L193.59 96.32 L194.03 96.08 L194.46 95.93 L194.88 95.9 L195.32 95.96 L195.78 96.08 L196.23 96.21 L196.67 96.33 L197.1 96.4 L197.51 96.44 L197.93 96.49 L198.33 96.53 L198.72 96.53 L199.08 96.49 L199.42 96.37 L199.71 96.17 L199.97 95.89 L200.2 95.56 L200.43 95.21 L200.65 94.87 L200.88 94.58 L201.11 94.31 L201.34 94.04 L201.56 93.78 L201.79 93.55 L202.02 93.37 L202.28 93.27 L202.58 93.27 L202.92 93.36 L203.28 93.49 L203.61 93.65 L203.9 93.79 L204.1 93.88" fill="none" stroke="#2a4a90" stroke-width="1.05" stroke-linecap="round" stroke-linejoin="round"/>
<ellipse cx="209" cy="173.02" rx="27.6" ry="28.58" fill="#e6ebf2" stroke="#a3afc2" stroke-width="0.5"/>
<ellipse cx="209" cy="172.74" rx="27.4" ry="27.96" fill="none" stroke="#b4bfce" stroke-width="0.6"/>
<circle cx="209" cy="172.4" r="27.03" fill="#fbecc9" stroke="#c7a76c" stroke-width="0.7"/>
<circle cx="209" cy="172.4" r="14" fill="#2f9a4a" stroke="#2a8a42" stroke-width="0.8"/>
<path d="M207.18 154.34 L207.22 154.69 L207.25 155.18 L207.3 155.76 L207.39 156.37 L207.52 156.95 L207.71 157.46 L208.01 157.87 L208.42 158.25 L208.87 158.59 L209.32 158.93 L209.7 159.28 L209.98 159.66 L210.15 160.07 L210.26 160.51 L210.31 160.96 L210.3 161.4 L210.24 161.82 L210.14 162.22 L209.94 162.57 L209.65 162.87 L209.31 163.16 L208.96 163.46 L208.66 163.78 L208.44 164.14 L208.3 164.56 L208.2 165.03 L208.14 165.52 L208.13 166.02 L208.17 166.5 L208.27 166.95 L208.47 167.38 L208.77 167.82 L209.12 168.24 L209.47 168.62 L209.77 168.94 L209.98 169.18M222.16 158.4 L222.06 158.7 L221.92 159.12 L221.76 159.61 L221.56 160.12 L221.33 160.59 L221.05 160.97 L220.7 161.27 L220.3 161.53 L219.85 161.75 L219.39 161.94 L218.94 162.08 L218.52 162.18 L218.13 162.2 L217.74 162.12 L217.36 162.01 L217 161.9 L216.65 161.84 L216.32 161.88 L216.02 162.02 L215.74 162.23 L215.48 162.49 L215.23 162.79 L214.98 163.11 L214.74 163.44 L214.52 163.81 L214.32 164.23 L214.13 164.67 L213.93 165.1 L213.69 165.49 L213.4 165.81 L213.01 166.05 L212.54 166.24 L212.03 166.38 L211.54 166.5 L211.12 166.58 L210.82 166.66M195.7 163.86 L195.91 164.07 L196.2 164.37 L196.54 164.72 L196.91 165.07 L197.31 165.36 L197.7 165.56 L198.11 165.65 L198.56 165.69 L199.03 165.67 L199.49 165.61 L199.93 165.51 L200.32 165.4 L200.65 165.23 L200.94 164.98 L201.21 164.69 L201.47 164.42 L201.74 164.21 L202.03 164.09 L202.36 164.07 L202.71 164.11 L203.07 164.21 L203.43 164.35 L203.78 164.52 L204.1 164.7 L204.38 164.93 L204.64 165.22 L204.88 165.54 L205.13 165.84 L205.39 166.1 L205.68 166.26 L206.04 166.31 L206.45 166.29 L206.88 166.21 L207.29 166.11 L207.63 166.01 L207.88 165.96M189.54 172.96 L189.87 172.79 L190.32 172.54 L190.86 172.26 L191.44 171.98 L192.03 171.76 L192.58 171.64 L193.12 171.63 L193.67 171.72 L194.23 171.85 L194.78 172.01 L195.32 172.16 L195.84 172.26 L196.34 172.34 L196.83 172.42 L197.31 172.49 L197.77 172.53 L198.22 172.51 L198.65 172.43 L199.05 172.25 L199.43 171.98 L199.79 171.67 L200.15 171.33 L200.51 171 L200.88 170.72 L201.27 170.46 L201.65 170.18 L202.05 169.91 L202.44 169.68 L202.85 169.5 L203.27 169.4 L203.72 169.4 L204.23 169.49 L204.74 169.63 L205.22 169.79 L205.63 169.93 L205.92 170.02M197.8 175.76 L198.06 175.83 L198.43 175.95 L198.87 176.08 L199.33 176.19 L199.79 176.25 L200.19 176.23 L200.55 176.1 L200.91 175.92 L201.25 175.67 L201.58 175.39 L201.88 175.09 L202.14 174.78 L202.34 174.44 L202.48 174.04 L202.59 173.62 L202.7 173.21 L202.85 172.83 L203.07 172.53 L203.38 172.3 L203.76 172.11 L204.17 171.96 L204.59 171.84 L205 171.76 L205.36 171.7 L205.69 171.7 L206 171.77 L206.3 171.87 L206.58 171.95 L206.83 171.99 L207.06 171.95 L207.26 171.78 L207.43 171.52 L207.58 171.21 L207.7 170.9 L207.8 170.62 L207.88 170.44M209.98 167.22 L210.29 167.21 L210.72 167.17 L211.23 167.14 L211.77 167.13 L212.29 167.18 L212.73 167.29 L213.12 167.51 L213.47 167.8 L213.81 168.14 L214.13 168.51 L214.44 168.86 L214.74 169.18 L215.02 169.48 L215.28 169.79 L215.52 170.1 L215.76 170.37 L216.03 170.59 L216.32 170.74 L216.65 170.8 L217.01 170.79 L217.39 170.73 L217.78 170.64 L218.16 170.53 L218.52 170.44 L218.87 170.33 L219.22 170.17 L219.57 170 L219.9 169.85 L220.23 169.76 L220.55 169.75 L220.88 169.86 L221.22 170.07 L221.55 170.33 L221.86 170.6 L222.11 170.84 L222.3 171M213.48 173.8 L213.65 173.98 L213.89 174.24 L214.17 174.55 L214.48 174.85 L214.8 175.09 L215.12 175.24 L215.45 175.26 L215.79 175.18 L216.15 175.04 L216.52 174.9 L216.89 174.8 L217.26 174.78 L217.65 174.84 L218.07 174.93 L218.49 175.07 L218.89 175.24 L219.26 175.45 L219.56 175.7 L219.78 176.01 L219.91 176.41 L220.01 176.84 L220.11 177.27 L220.25 177.67 L220.48 178 L220.8 178.28 L221.18 178.53 L221.61 178.76 L222.06 178.93 L222.51 179.06 L222.95 179.12 L223.4 179.08 L223.89 178.95 L224.39 178.77 L224.85 178.57 L225.24 178.39 L225.52 178.28M209.56 176.74 L209.8 176.66 L210.14 176.53 L210.53 176.38 L210.95 176.26 L211.36 176.19 L211.73 176.2 L212.06 176.31 L212.39 176.48 L212.71 176.71 L213.01 176.98 L213.27 177.27 L213.48 177.58 L213.61 177.93 L213.67 178.33 L213.69 178.75 L213.72 179.18 L213.79 179.57 L213.94 179.9 L214.19 180.17 L214.5 180.39 L214.86 180.58 L215.24 180.75 L215.62 180.91 L216 181.08 L216.39 181.23 L216.8 181.35 L217.22 181.47 L217.63 181.6 L218 181.77 L218.3 182 L218.55 182.33 L218.75 182.75 L218.91 183.21 L219.03 183.65 L219.14 184.03 L219.22 184.3M204.1 178 L204.11 178.24 L204.1 178.58 L204.1 178.98 L204.13 179.4 L204.2 179.78 L204.34 180.09 L204.56 180.33 L204.84 180.53 L205.17 180.7 L205.53 180.85 L205.88 180.97 L206.2 181.08 L206.51 181.15 L206.84 181.16 L207.17 181.16 L207.48 181.16 L207.75 181.21 L207.97 181.32 L208.11 181.52 L208.2 181.79 L208.26 182.09 L208.3 182.41 L208.35 182.74 L208.44 183.04 L208.55 183.35 L208.66 183.68 L208.78 184.01 L208.92 184.32 L209.1 184.58 L209.31 184.77 L209.59 184.88 L209.94 184.93 L210.33 184.92 L210.7 184.9 L211.02 184.87 L211.24 184.86M192.2 184.58 L192.44 184.4 L192.77 184.13 L193.16 183.83 L193.59 183.52 L194.03 183.28 L194.46 183.13 L194.88 183.1 L195.32 183.16 L195.78 183.28 L196.23 183.41 L196.67 183.53 L197.1 183.6 L197.51 183.64 L197.93 183.69 L198.33 183.73 L198.72 183.73 L199.08 183.69 L199.42 183.57 L199.71 183.37 L199.97 183.09 L200.2 182.76 L200.43 182.41 L200.65 182.07 L200.88 181.78 L201.11 181.51 L201.34 181.24 L201.56 180.98 L201.79 180.75 L202.02 180.57 L202.28 180.47 L202.58 180.47 L202.92 180.56 L203.28 180.69 L203.61 180.85 L203.9 180.99 L204.1 181.08" fill="none" stroke="#2a4a90" stroke-width="1.05" stroke-linecap="round" stroke-linejoin="round"/>
<ellipse cx="303.2" cy="121" rx="7.7" ry="8.6" fill="#d8f2e1" stroke="#a8d9b9" stroke-width="0.7"/>
<g>
<path d="M321.5 124.5 L322.33 124.86 L322.82 124.85 L323.28 124.74 L323.71 124.57 L324.12 124.35 L324.52 124.09 L324.9 123.78 L325.26 123.43 L325.6 123.05 L325.95 122.65 L326.32 122.25 L326.69 121.84 L327.07 121.43 L327.47 121.03 L327.87 120.63 L328.28 120.24 L328.69 119.86 L329.1 119.49 L329.52 119.14 L329.94 118.81 L330.35 118.51 L330.75 118.23 L331.14 117.98 L331.54 117.75 L331.96 117.53 L332.4 117.29 L332.86 117.07 L333.34 116.84 L333.83 116.63 L334.33 116.41 L334.84 116.2 L335.35 116 L335.88 115.81 L336.41 115.62 L336.95 115.43 L337.49 115.26 L338.04 115.09 L338.58 114.93 L339.13 114.77 L339.68 114.62 L340.22 114.48 L340.76 114.35 L341.3 114.23 L341.83 114.11 L342.35 114.01 L342.86 113.91 L343.37 113.82 L343.86 113.74 L344.35 113.67 L344.84 113.6 L345.32 113.54 L345.79 113.49 L346.27 113.45 L346.73 113.41 L347.2 113.37 L347.66 113.35 L348.13 113.33 L348.59 113.31 L349.06 113.3 L349.52 113.3 L349.99 113.3 L350.46 113.31 L350.93 113.32 L351.41 113.33 L351.89 113.35 L352.38 113.38 L352.88 113.41 L353.38 113.45 L353.89 113.49 L354.41 113.54 L354.93 113.6 L355.45 113.66 L355.97 113.74 L356.49 113.82 L357.03 113.92 L357.59 114.03 L358.16 114.15 L358.75 114.28 L359.35 114.42 L359.95 114.57 L360.57 114.73 L361.18 114.9 L361.81 115.08 L362.43 115.26 L363.06 115.44 L363.69 115.63 L364.31 115.83 L364.94 116.02 L365.56 116.22 L366.17 116.42 L366.78 116.62 L367.37 116.81 L367.96 117.01 L368.54 117.2 L369.11 117.4 L369.65 117.58 L370.14 117.75 L370.6 117.91 L371.05 118.08 L371.5 118.26 L371.94 118.44 L372.37 118.62 L372.8 118.81 L373.22 119 L373.65 119.19 L374.08 119.39 L374.51 119.59 L374.94 119.8 L375.38 120 L375.82 120.21 L376.28 120.42 L376.74 120.63 L377.21 120.84 L377.69 121.06 L378.19 121.27 L378.7 121.48 L379.22 121.68 L379.75 121.89 L380.3 122.09 L380.85 122.28 L381.36 122.45 L381.87 122.62 L382.39 122.8 L382.91 122.98 L383.45 123.16 L383.99 123.34 L384.54 123.52 L385.1 123.7 L385.67 123.88 L386.24 124.06 L386.82 124.24 L387.41 124.41 L388 124.57 L388.6 124.74 L389.21 124.89 L389.82 125.03 L390.44 125.17 L391.06 125.3 L391.69 125.42 L392.32 125.52 L392.96 125.61 L393.6 125.69 L394.25 125.76 L394.9 125.8 L395.53 125.83 L396.17 125.85 L396.79 125.85 L397.42 125.84 L398.04 125.82 L398.66 125.79 L399.27 125.74 L399.88 125.69 L400.48 125.62 L401.09 125.55 L401.69 125.47 L402.28 125.38 L402.87 125.28 L403.46 125.18 L404.04 125.07 L404.62 124.95 L405.19 124.83 L405.77 124.71 L406.33 124.58 L406.9 124.44 L407.46 124.31 L408.02 124.17 L408.57 124.03 L409.14 123.89 L409.73 123.73 L410.33 123.56 L410.92 123.38 L411.51 123.19 L412.09 122.99 L412.67 122.78 L413.24 122.57 L413.8 122.36 L414.36 122.14 L414.91 121.92 L415.46 121.7 L416.01 121.47 L416.54 121.24 L417.08 121.02 L417.61 120.79 L418.13 120.57 L418.66 120.35 L419.17 120.13 L419.69 119.92 L420.2 119.71 L420.71 119.51 L421.21 119.31 L421.71 119.12 L422.22 118.93 L422.74 118.74 L423.28 118.54 L423.83 118.35 L424.37 118.15 L424.91 117.95 L425.46 117.76 L426 117.56 L426.54 117.36 L427.08 117.17 L427.62 116.97 L428.16 116.78 L428.7 116.59 L429.23 116.41 L429.76 116.22 L430.29 116.04 L430.82 115.87 L431.34 115.7 L431.85 115.53 L432.36 115.37 L432.86 115.21 L433.36 115.06 L433.85 114.92 L434.34 114.78 L434.82 114.65 L435.3 114.52 L435.78 114.4 L436.26 114.28 L436.74 114.17 L437.22 114.06 L437.7 113.95 L438.17 113.85 L438.65 113.75 L439.12 113.66 L439.59 113.57 L440.05 113.48 L440.51 113.4 L440.97 113.32 L441.42 113.25 L441.87 113.18 L442.31 113.12 L442.74 113.06 L443.17 113 L443.59 112.95 L444 112.9 L444.41 112.86 L444.8 112.82 L445.19 112.79 L445.57 112.76 L445.92 112.73 L446.28 112.72 L446.64 112.72 L447 112.72 L447.36 112.73 L447.71 112.74 L448.07 112.77 L448.42 112.8 L448.77 112.83 L449.11 112.87 L449.45 112.91 L449.78 112.95 L450.1 113 L450.42 113.04 L450.72 113.09 L451.01 113.14 L451.29 113.18 L451.56 113.23 L451.82 113.27 L452.06 113.31 L452.29 113.34 L452.5 113.37 L452.7 113.4 L452.87 113.42 L453.13 112.18 L452.97 112.13 L452.81 112.08 L452.62 112.01 L452.42 111.93 L452.2 111.85 L451.96 111.76 L451.7 111.66 L451.43 111.56 L451.15 111.46 L450.85 111.35 L450.54 111.24 L450.22 111.12 L449.88 111.01 L449.54 110.9 L449.19 110.79 L448.82 110.69 L448.45 110.58 L448.07 110.48 L447.68 110.39 L447.28 110.3 L446.88 110.22 L446.47 110.15 L446.05 110.09 L445.63 110.04 L445.22 110 L444.81 109.96 L444.38 109.93 L443.95 109.9 L443.5 109.87 L443.05 109.84 L442.6 109.82 L442.13 109.81 L441.66 109.8 L441.18 109.79 L440.69 109.79 L440.2 109.79 L439.7 109.79 L439.2 109.8 L438.69 109.81 L438.18 109.83 L437.67 109.85 L437.15 109.88 L436.63 109.91 L436.1 109.95 L435.58 109.99 L435.05 110.04 L434.52 110.09 L433.98 110.15 L433.44 110.21 L432.89 110.28 L432.34 110.36 L431.79 110.45 L431.23 110.54 L430.66 110.63 L430.09 110.73 L429.52 110.83 L428.95 110.94 L428.38 111.06 L427.8 111.17 L427.23 111.29 L426.65 111.42 L426.07 111.54 L425.49 111.67 L424.92 111.8 L424.34 111.93 L423.77 112.06 L423.2 112.2 L422.63 112.33 L422.07 112.47 L421.5 112.6 L420.95 112.73 L420.38 112.87 L419.8 113.01 L419.22 113.17 L418.64 113.33 L418.06 113.49 L417.48 113.66 L416.92 113.84 L416.35 114.01 L415.79 114.18 L415.24 114.36 L414.68 114.53 L414.14 114.71 L413.59 114.88 L413.06 115.05 L412.52 115.21 L412 115.37 L411.47 115.53 L410.95 115.68 L410.44 115.82 L409.93 115.96 L409.43 116.09 L408.93 116.21 L408.44 116.32 L407.96 116.42 L407.46 116.51 L406.94 116.61 L406.41 116.71 L405.87 116.8 L405.34 116.89 L404.82 116.98 L404.29 117.07 L403.77 117.15 L403.26 117.23 L402.74 117.3 L402.23 117.37 L401.72 117.43 L401.22 117.49 L400.72 117.54 L400.23 117.58 L399.73 117.62 L399.25 117.65 L398.76 117.67 L398.28 117.68 L397.81 117.69 L397.34 117.69 L396.87 117.68 L396.41 117.66 L395.95 117.63 L395.5 117.6 L395.06 117.55 L394.61 117.49 L394.15 117.42 L393.69 117.34 L393.22 117.25 L392.74 117.15 L392.25 117.04 L391.76 116.92 L391.27 116.79 L390.77 116.66 L390.26 116.52 L389.75 116.37 L389.24 116.21 L388.73 116.05 L388.21 115.89 L387.69 115.72 L387.17 115.55 L386.65 115.37 L386.13 115.2 L385.61 115.02 L385.09 114.84 L384.57 114.67 L384.05 114.49 L383.55 114.32 L383.1 114.17 L382.68 114.02 L382.26 113.86 L381.85 113.69 L381.44 113.52 L381.03 113.35 L380.62 113.17 L380.21 112.98 L379.79 112.79 L379.37 112.6 L378.95 112.4 L378.51 112.19 L378.07 111.98 L377.61 111.77 L377.15 111.56 L376.67 111.34 L376.19 111.12 L375.68 110.9 L375.17 110.69 L374.63 110.47 L374.09 110.25 L373.52 110.04 L372.94 109.83 L372.35 109.62 L371.78 109.43 L371.21 109.24 L370.62 109.04 L370.02 108.84 L369.4 108.64 L368.77 108.43 L368.13 108.22 L367.48 108.02 L366.82 107.81 L366.15 107.6 L365.47 107.4 L364.79 107.19 L364.11 107 L363.42 106.8 L362.73 106.62 L362.03 106.43 L361.34 106.26 L360.65 106.1 L359.96 105.94 L359.27 105.79 L358.58 105.66 L357.89 105.54 L357.21 105.43 L356.55 105.34 L355.91 105.26 L355.29 105.19 L354.67 105.13 L354.06 105.07 L353.44 105.03 L352.84 104.99 L352.23 104.96 L351.63 104.95 L351.02 104.95 L350.42 104.95 L349.83 104.97 L349.23 105 L348.63 105.04 L348.04 105.1 L347.45 105.16 L346.85 105.24 L346.26 105.33 L345.67 105.42 L345.08 105.54 L344.49 105.66 L343.9 105.79 L343.32 105.94 L342.73 106.09 L342.14 106.26 L341.54 106.44 L340.94 106.64 L340.34 106.84 L339.74 107.06 L339.13 107.29 L338.53 107.53 L337.93 107.78 L337.32 108.04 L336.72 108.31 L336.13 108.59 L335.53 108.88 L334.94 109.18 L334.36 109.49 L333.78 109.8 L333.21 110.12 L332.65 110.44 L332.09 110.77 L331.54 111.11 L331 111.45 L330.47 111.8 L329.96 112.15 L329.45 112.51 L328.96 112.87 L328.46 113.25 L327.96 113.65 L327.46 114.08 L326.98 114.53 L326.51 114.99 L326.06 115.46 L325.61 115.94 L325.18 116.42 L324.76 116.91 L324.35 117.4 L323.95 117.89 L323.56 118.37 L323.18 118.85 L322.82 119.32 L322.47 119.77 L322.13 120.21 L321.81 120.64 L321.54 121.08 L321.32 121.51 L321.15 121.95 L321.04 122.39 L320.97 122.82 L320.97 123.26 L321.05 123.73 L321.5 124.5Z" fill="#5a5759" stroke="#484648" stroke-width="0.5" stroke-linejoin="round"/>
<path d="M330.86 117.66 L332.21 116.89 L333.62 116.21 L335.11 115.57 L336.59 115.01 L338.09 114.51 L339.61 114.07 L341.13 113.68 L342.69 113.33 L344.21 113.06 L345.69 112.87 L347.21 112.73 L348.73 112.65 L350.26 112.64 L351.8 112.68 L353.34 112.77 L354.9 112.92 L356.4 113.12 L357.9 113.4 L359.47 113.76 L361 114.16 L362.58 114.6 L364.14 115.07 L365.72 115.57 L367.3 116.08 L368.9 116.62 L370.4 117.12 L371.85 117.68 L373.31 118.3 L374.8 118.99 L376.35 119.71 L378.01 120.46 L379.71 121.15 L381.41 121.75 L383 122.3 L384.64 122.85 L386.31 123.38 L388.03 123.89 L389.79 124.34 L391.62 124.73 L393.51 125.02 L395.44 125.17 L397.34 125.19 L399.21 125.1 L401.09 124.9 L402.88 124.63 L404.63 124.31 L406.35 123.94 L408.04 123.54 L409.8 123.09 L411.55 122.55 L413.23 121.96 L414.86 121.33 L416.45 120.68 L418 120.04 L419.53 119.41 L421.03 118.82 L422.59 118.26 L424.19 117.7 L425.78 117.14 L427.36 116.59 L428.94 116.05 L430.52 115.53 L432.09 115.04 L433.67 114.58 L435.24 114.17 L436.85 113.8 L438.47 113.47 L440.09 113.18 L441.73 112.93 L443.37 112.73" fill="none" stroke="#5ccc1f" stroke-width="0.6" stroke-linecap="round"/>
<path d="M328.32 113.92 L329.8 112.82 L331.31 111.82 L332.83 110.9 L334.42 110.04 L336.04 109.23 L337.7 108.49 L339.39 107.82 L341.08 107.22 L342.85 106.7 L344.7 106.27 L346.53 105.94 L348.38 105.73 L350.23 105.63 L352.08 105.63 L353.91 105.74 L355.72 105.91 L357.58 106.17 L359.41 106.51 L361.14 106.9 L362.88 107.35 L364.56 107.83 L366.24 108.33 L367.89 108.85 L369.53 109.39 L371.14 109.93 L372.85 110.51 L374.56 111.16 L376.21 111.87 L377.8 112.6 L379.31 113.31 L380.74 113.95 L382.17 114.54 L383.66 115.07 L385.27 115.62 L386.85 116.15 L388.4 116.65 L389.92 117.11 L391.42 117.52 L392.9 117.86 L394.36 118.12 L395.79 118.28 L397.28 118.34 L398.79 118.31 L400.28 118.22 L401.85 118.05 L403.44 117.83 L405.04 117.57 L406.67 117.28 L408.21 116.98 L409.72 116.62 L411.27 116.19 L412.83 115.71 L414.43 115.2 L416.05 114.67 L417.71 114.15 L419.41 113.65 L421.08 113.22 L422.73 112.81 L424.39 112.4 L426.05 112.01 L427.73 111.63 L429.43 111.28 L431.13 110.95 L432.86 110.67 L434.61 110.44 L436.35 110.27 L438.08 110.15 L439.82 110.08 L441.56 110.07 L443.3 110.11" fill="none" stroke="#5ccc1f" stroke-width="0.6" stroke-linecap="round"/>
<path d="M330.86 117.66Q330.23 115.35 327.19 114.9M337.94 114.56Q336.28 112.19 335.07 109.71M345.68 112.87Q344.7 109.65 345.16 106.17M350.92 112.65Q350.88 109.13 350.98 105.62M356.99 113.23Q358.19 109.86 356.8 106.05M364.1 115.06Q364.38 111.45 365.44 108.09M371.61 117.58Q373.55 114.56 373.82 110.87M377.57 120.27Q378.6 116.86 381.77 114.38M384.88 122.92Q386.16 119.63 386.68 116.09M395.15 125.16Q395.06 121.69 396.07 118.3M402.89 124.63Q402.62 121.31 403.13 117.88M410.98 122.73Q409.52 119.9 407.94 117.03M419.38 119.47Q418.44 116.84 416.52 114.52M426.41 116.92Q425.86 114.54 425.81 112.07M433.3 114.68Q432.53 112.78 431.98 110.81M440.53 113.11Q439.8 111.65 441.19 110.07" fill="none" stroke="#5ccc1f" stroke-width="0.6"/>
<g fill="#93e01f"><circle cx="334.37" cy="115.66" r="0.57"/><circle cx="342.87" cy="113.04" r="0.57"/><circle cx="349.52" cy="112.36" r="0.57"/><circle cx="348.29" cy="112.39" r="0.57"/><circle cx="353.16" cy="112.47" r="0.57"/><circle cx="360.74" cy="113.79" r="0.57"/><circle cx="368.88" cy="116.31" r="0.57"/><circle cx="369.69" cy="116.58" r="0.57"/><circle cx="376.34" cy="119.4" r="0.57"/><circle cx="374.77" cy="118.66" r="0.57"/><circle cx="380.04" cy="120.98" r="0.57"/><circle cx="388.42" cy="123.7" r="0.57"/><circle cx="397.8" cy="124.9" r="0.57"/><circle cx="405.5" cy="123.86" r="0.57"/><circle cx="417.17" cy="120.14" r="0.57"/><circle cx="421.16" cy="118.54" r="0.57"/><circle cx="427.96" cy="116.18" r="0.57"/><circle cx="438.66" cy="113.3" r="0.57"/><circle cx="434.46" cy="114.2" r="0.57"/><circle cx="324.35" cy="121.4" r="0.48"/><circle cx="326.18" cy="119.29" r="0.48"/><circle cx="327.94" cy="117.51" r="0.48"/></g>
</g>
<polygon points="423.4,97.2 368.28,96.05 370.8,91 358.2,97.3 370.8,103.6 368.28,98.55 423.4,97.4" fill="#231f20"/>
<!-- Panel B -->
<g font-family="'Liberation Sans', Arial, sans-serif" font-weight="bold" font-size="10" fill="#000">
<rect x="547.2" y="142.61" width="25.8" height="20.19" fill="#d4d4d4" stroke="#000" stroke-width="1.3"/>
<rect x="586.3" y="90.27" width="25.7" height="72.53" fill="#10bb76" stroke="#000" stroke-width="1.3"/>
<rect x="651.3" y="145.5" width="25.3" height="17.3" fill="#d4d4d4" stroke="#000" stroke-width="1.3"/>
<rect x="690.3" y="135.4" width="25.3" height="27.4" fill="#10bb76" stroke="#000" stroke-width="1.3"/>
<path d="M560.1 142.61V125.45M553.9 125.45H566.3" stroke="#787878" stroke-width="1.2" fill="none"/>
<path d="M599.15 90.27V78.3M592.95 78.3H605.35" stroke="#787878" stroke-width="1.2" fill="none"/>
<path d="M663.95 145.5V125.31M657.75 125.31H670.15" stroke="#787878" stroke-width="1.2" fill="none"/>
<path d="M702.95 135.4V112.33M696.75 112.33H709.15" stroke="#787878" stroke-width="1.2" fill="none"/>
<g fill="#000"><circle cx="560.1" cy="105.12" r="1.28"/><circle cx="556.85" cy="119.54" r="1.28"/><circle cx="560.1" cy="119.54" r="1.28"/><circle cx="563.35" cy="119.54" r="1.28"/><circle cx="548.58" cy="133.96" r="1.28"/><circle cx="551.46" cy="133.96" r="1.28"/><circle cx="554.34" cy="133.96" r="1.28"/><circle cx="557.22" cy="133.96" r="1.28"/><circle cx="560.1" cy="133.96" r="1.28"/><circle cx="562.98" cy="133.96" r="1.28"/><circle cx="565.86" cy="133.96" r="1.28"/><circle cx="568.74" cy="133.96" r="1.28"/><circle cx="571.62" cy="133.96" r="1.28"/><circle cx="551.55" cy="148.38" r="1.28"/><circle cx="554.4" cy="148.38" r="1.28"/><circle cx="557.25" cy="148.38" r="1.28"/><circle cx="560.1" cy="148.38" r="1.28"/><circle cx="562.95" cy="148.38" r="1.28"/><circle cx="565.8" cy="148.38" r="1.28"/><circle cx="568.65" cy="148.38" r="1.28"/><circle cx="550.06" cy="162.8" r="1.28"/><circle cx="552.93" cy="162.8" r="1.28"/><circle cx="555.8" cy="162.8" r="1.28"/><circle cx="558.67" cy="162.8" r="1.28"/><circle cx="561.53" cy="162.8" r="1.28"/><circle cx="564.4" cy="162.8" r="1.28"/><circle cx="567.27" cy="162.8" r="1.28"/><circle cx="570.14" cy="162.8" r="1.28"/><circle cx="598.5" cy="61.86" r="1.28"/><circle cx="599.8" cy="61.86" r="1.28"/><circle cx="597.15" cy="76.28" r="1.28"/><circle cx="599.15" cy="76.28" r="1.28"/><circle cx="601.15" cy="76.28" r="1.28"/><circle cx="587.67" cy="90.7" r="1.28"/><circle cx="590.23" cy="90.7" r="1.28"/><circle cx="592.77" cy="90.7" r="1.28"/><circle cx="595.32" cy="90.7" r="1.28"/><circle cx="597.88" cy="90.7" r="1.28"/><circle cx="600.42" cy="90.7" r="1.28"/><circle cx="602.98" cy="90.7" r="1.28"/><circle cx="605.52" cy="90.7" r="1.28"/><circle cx="608.07" cy="90.7" r="1.28"/><circle cx="610.62" cy="90.7" r="1.28"/><circle cx="591.65" cy="105.12" r="1.28"/><circle cx="593.15" cy="105.12" r="1.28"/><circle cx="594.65" cy="105.12" r="1.28"/><circle cx="596.15" cy="105.12" r="1.28"/><circle cx="597.65" cy="105.12" r="1.28"/><circle cx="599.15" cy="105.12" r="1.28"/><circle cx="600.65" cy="105.12" r="1.28"/><circle cx="602.15" cy="105.12" r="1.28"/><circle cx="603.65" cy="105.12" r="1.28"/><circle cx="605.15" cy="105.12" r="1.28"/><circle cx="606.65" cy="105.12" r="1.28"/><circle cx="663.95" cy="90.7" r="1.28"/><circle cx="659.05" cy="119.54" r="1.28"/><circle cx="661.5" cy="119.54" r="1.28"/><circle cx="663.95" cy="119.54" r="1.28"/><circle cx="666.4" cy="119.54" r="1.28"/><circle cx="668.85" cy="119.54" r="1.28"/><circle cx="663.95" cy="133.96" r="1.28"/><circle cx="653.83" cy="148.38" r="1.28"/><circle cx="656.08" cy="148.38" r="1.28"/><circle cx="658.33" cy="148.38" r="1.28"/><circle cx="660.58" cy="148.38" r="1.28"/><circle cx="662.83" cy="148.38" r="1.28"/><circle cx="665.08" cy="148.38" r="1.28"/><circle cx="667.33" cy="148.38" r="1.28"/><circle cx="669.58" cy="148.38" r="1.28"/><circle cx="671.83" cy="148.38" r="1.28"/><circle cx="674.08" cy="148.38" r="1.28"/><circle cx="653.45" cy="162.8" r="1.28"/><circle cx="655.55" cy="162.8" r="1.28"/><circle cx="657.65" cy="162.8" r="1.28"/><circle cx="659.75" cy="162.8" r="1.28"/><circle cx="661.85" cy="162.8" r="1.28"/><circle cx="663.95" cy="162.8" r="1.28"/><circle cx="666.05" cy="162.8" r="1.28"/><circle cx="668.15" cy="162.8" r="1.28"/><circle cx="670.25" cy="162.8" r="1.28"/><circle cx="672.35" cy="162.8" r="1.28"/><circle cx="674.45" cy="162.8" r="1.28"/><circle cx="694.94" cy="105.12" r="1.28"/><circle cx="697.61" cy="105.12" r="1.28"/><circle cx="700.28" cy="105.12" r="1.28"/><circle cx="702.95" cy="105.12" r="1.28"/><circle cx="705.62" cy="105.12" r="1.28"/><circle cx="708.29" cy="105.12" r="1.28"/><circle cx="710.96" cy="105.12" r="1.28"/><circle cx="698" cy="119.54" r="1.28"/><circle cx="701.3" cy="119.54" r="1.28"/><circle cx="704.6" cy="119.54" r="1.28"/><circle cx="707.9" cy="119.54" r="1.28"/><circle cx="702.15" cy="133.96" r="1.28"/><circle cx="703.75" cy="133.96" r="1.28"/><circle cx="692.65" cy="148.38" r="1.28"/><circle cx="694.94" cy="148.38" r="1.28"/><circle cx="697.23" cy="148.38" r="1.28"/><circle cx="699.52" cy="148.38" r="1.28"/><circle cx="701.81" cy="148.38" r="1.28"/><circle cx="704.1" cy="148.38" r="1.28"/><circle cx="706.38" cy="148.38" r="1.28"/><circle cx="708.68" cy="148.38" r="1.28"/><circle cx="710.97" cy="148.38" r="1.28"/><circle cx="713.25" cy="148.38" r="1.28"/><circle cx="696.95" cy="162.8" r="1.28"/><circle cx="699.35" cy="162.8" r="1.28"/><circle cx="701.75" cy="162.8" r="1.28"/><circle cx="704.15" cy="162.8" r="1.28"/><circle cx="706.55" cy="162.8" r="1.28"/><circle cx="708.95" cy="162.8" r="1.28"/></g>
<path d="M533.8 18.6V162.8H729.7" stroke="#000" stroke-width="1.6" fill="none" stroke-linecap="square"/>
<path d="M528.6 162.8H533.8" stroke="#000" stroke-width="1.6"/>
<text x="526.9" y="166.2" text-anchor="end" font-size="9.5">0.0</text>
<path d="M528.6 133.96H533.8" stroke="#000" stroke-width="1.6"/>
<text x="526.9" y="137.36" text-anchor="end" font-size="9.5">0.2</text>
<path d="M528.6 105.12H533.8" stroke="#000" stroke-width="1.6"/>
<text x="526.9" y="108.52" text-anchor="end" font-size="9.5">0.4</text>
<path d="M528.6 76.28H533.8" stroke="#000" stroke-width="1.6"/>
<text x="526.9" y="79.68" text-anchor="end" font-size="9.5">0.6</text>
<path d="M528.6 47.44H533.8" stroke="#000" stroke-width="1.6"/>
<text x="526.9" y="50.84" text-anchor="end" font-size="9.5">0.8</text>
<path d="M528.6 18.6H533.8" stroke="#000" stroke-width="1.6"/>
<text x="526.9" y="22" text-anchor="end" font-size="9.5">1.0</text>
<path d="M579.4 162.8V167.8" stroke="#000" stroke-width="1.6"/>
<path d="M683.6 162.8V167.8" stroke="#000" stroke-width="1.6"/>
<text transform="translate(582.6 176.6) rotate(-45)" text-anchor="end">WT</text>
<text transform="translate(687.2 176.6) rotate(-45)" text-anchor="end">AVA/AVD/AVE (-)</text>
<text transform="translate(495 91.2) rotate(-90)" text-anchor="middle">Response Index</text>
<text transform="translate(507.7 91.2) rotate(-90)" text-anchor="middle">to <tspan font-style="italic">P. aeruginosa</tspan></text>
</g>
<g stroke="#000" stroke-width="1.25" fill="none">
<path d="M559.8 125.5V36H664.2V43.5"/>
<path d="M599 77.5V62.5H703V105"/>
</g>
<g font-size="10px" fill="#000">
<text x="611.6" y="30.1" text-anchor="middle">ns</text>
<text x="652.6" y="61.9" text-anchor="middle" font-size="15.5px" font-weight="bold" letter-spacing="1.85">****</text>
<rect x="719.7" y="87.7" width="12.5" height="5.5" fill="#d4d4d4" stroke="#000" stroke-width="1.2"/>
<rect x="719.7" y="104.7" width="12.5" height="5.5" fill="#10bb76" stroke="#000" stroke-width="1.2"/>
<text x="740.4" y="93.7" font-weight="bold">Naive</text>
<text x="741.1" y="110.6" font-weight="bold">Trained</text>
</g>
<!-- Panel D -->
<g stroke="#000" stroke-width="1.25" fill="none">
<path d="M502.9 286V252.5H602.3V259.8"/>
<path d="M540.5 286V278.4H639.5V285.6"/>
<path d="M502.9 437V304.7H540.5V365"/>
<path d="M602.3 422.7V304.7H639.5V319"/>
</g>
<g font-family="'Liberation Sans', Arial, sans-serif" font-weight="bold" font-size="10" fill="#000">
<rect x="490.8" y="436.99" width="24.4" height="16.51" fill="#d4d4d4" stroke="#000" stroke-width="1.3"/>
<rect x="528.1" y="389.24" width="24.5" height="64.26" fill="#4a92ef" stroke="#000" stroke-width="1.3"/>
<rect x="589.9" y="445.52" width="24.4" height="7.98" fill="#d4d4d4" stroke="#000" stroke-width="1.3"/>
<rect x="627.2" y="347.55" width="24.4" height="105.95" fill="#4a92ef" stroke="#000" stroke-width="1.3"/>
<path d="M503 436.99V418.14M497 418.14H509" stroke="#3a3a3a" stroke-width="1.2" fill="none"/>
<path d="M540.35 389.24V365.16M534.35 365.16H546.35" stroke="#3a3a3a" stroke-width="1.2" fill="none"/>
<path d="M602.1 445.52V430.8M596.1 430.8H608.1" stroke="#3a3a3a" stroke-width="1.2" fill="none"/>
<path d="M639.4 347.55V318.93M633.4 318.93H645.4" stroke="#3a3a3a" stroke-width="1.2" fill="none"/>
<g fill="#000"><circle cx="502" cy="398.46" r="1.25"/><circle cx="504" cy="398.46" r="1.25"/><circle cx="500.7" cy="412.22" r="1.25"/><circle cx="503" cy="412.22" r="1.25"/><circle cx="505.3" cy="412.22" r="1.25"/><circle cx="499.55" cy="425.98" r="1.25"/><circle cx="501.85" cy="425.98" r="1.25"/><circle cx="504.15" cy="425.98" r="1.25"/><circle cx="506.45" cy="425.98" r="1.25"/><circle cx="497.25" cy="439.74" r="1.25"/><circle cx="499.55" cy="439.74" r="1.25"/><circle cx="501.85" cy="439.74" r="1.25"/><circle cx="504.15" cy="439.74" r="1.25"/><circle cx="506.45" cy="439.74" r="1.25"/><circle cx="508.75" cy="439.74" r="1.25"/><circle cx="492.79" cy="453.5" r="1.25"/><circle cx="495.06" cy="453.5" r="1.25"/><circle cx="497.32" cy="453.5" r="1.25"/><circle cx="499.6" cy="453.5" r="1.25"/><circle cx="501.87" cy="453.5" r="1.25"/><circle cx="504.13" cy="453.5" r="1.25"/><circle cx="506.4" cy="453.5" r="1.25"/><circle cx="508.68" cy="453.5" r="1.25"/><circle cx="510.94" cy="453.5" r="1.25"/><circle cx="513.22" cy="453.5" r="1.25"/><circle cx="540.35" cy="343.42" r="1.25"/><circle cx="538.89" cy="357.18" r="1.25"/><circle cx="541.81" cy="357.18" r="1.25"/><circle cx="534.51" cy="370.94" r="1.25"/><circle cx="537.43" cy="370.94" r="1.25"/><circle cx="540.35" cy="370.94" r="1.25"/><circle cx="543.27" cy="370.94" r="1.25"/><circle cx="546.19" cy="370.94" r="1.25"/><circle cx="528.85" cy="384.7" r="1.25"/><circle cx="531.73" cy="384.7" r="1.25"/><circle cx="534.6" cy="384.7" r="1.25"/><circle cx="537.48" cy="384.7" r="1.25"/><circle cx="540.35" cy="384.7" r="1.25"/><circle cx="543.23" cy="384.7" r="1.25"/><circle cx="546.1" cy="384.7" r="1.25"/><circle cx="548.98" cy="384.7" r="1.25"/><circle cx="551.85" cy="384.7" r="1.25"/><circle cx="538.89" cy="398.46" r="1.25"/><circle cx="541.81" cy="398.46" r="1.25"/><circle cx="535.97" cy="412.22" r="1.25"/><circle cx="538.89" cy="412.22" r="1.25"/><circle cx="541.81" cy="412.22" r="1.25"/><circle cx="544.73" cy="412.22" r="1.25"/><circle cx="538.89" cy="425.98" r="1.25"/><circle cx="541.81" cy="425.98" r="1.25"/><circle cx="540.35" cy="439.74" r="1.25"/><circle cx="602.1" cy="398.46" r="1.25"/><circle cx="602.1" cy="412.22" r="1.25"/><circle cx="602.1" cy="425.98" r="1.25"/><circle cx="598.7" cy="439.74" r="1.25"/><circle cx="600.4" cy="439.74" r="1.25"/><circle cx="602.1" cy="439.74" r="1.25"/><circle cx="603.8" cy="439.74" r="1.25"/><circle cx="605.5" cy="439.74" r="1.25"/><circle cx="590.65" cy="453.5" r="1.25"/><circle cx="592" cy="453.5" r="1.25"/><circle cx="593.34" cy="453.5" r="1.25"/><circle cx="594.69" cy="453.5" r="1.25"/><circle cx="596.04" cy="453.5" r="1.25"/><circle cx="597.39" cy="453.5" r="1.25"/><circle cx="598.73" cy="453.5" r="1.25"/><circle cx="600.08" cy="453.5" r="1.25"/><circle cx="601.43" cy="453.5" r="1.25"/><circle cx="602.77" cy="453.5" r="1.25"/><circle cx="604.12" cy="453.5" r="1.25"/><circle cx="605.47" cy="453.5" r="1.25"/><circle cx="606.81" cy="453.5" r="1.25"/><circle cx="608.16" cy="453.5" r="1.25"/><circle cx="609.51" cy="453.5" r="1.25"/><circle cx="610.86" cy="453.5" r="1.25"/><circle cx="612.2" cy="453.5" r="1.25"/><circle cx="613.55" cy="453.5" r="1.25"/><circle cx="627.95" cy="315.9" r="1.25"/><circle cx="630.81" cy="315.9" r="1.25"/><circle cx="633.68" cy="315.9" r="1.25"/><circle cx="636.54" cy="315.9" r="1.25"/><circle cx="639.4" cy="315.9" r="1.25"/><circle cx="642.26" cy="315.9" r="1.25"/><circle cx="645.13" cy="315.9" r="1.25"/><circle cx="647.99" cy="315.9" r="1.25"/><circle cx="650.85" cy="315.9" r="1.25"/><circle cx="637.94" cy="329.66" r="1.25"/><circle cx="640.86" cy="329.66" r="1.25"/><circle cx="636.48" cy="343.42" r="1.25"/><circle cx="639.4" cy="343.42" r="1.25"/><circle cx="642.32" cy="343.42" r="1.25"/><circle cx="632.1" cy="357.18" r="1.25"/><circle cx="635.02" cy="357.18" r="1.25"/><circle cx="637.94" cy="357.18" r="1.25"/><circle cx="640.86" cy="357.18" r="1.25"/><circle cx="643.78" cy="357.18" r="1.25"/><circle cx="646.7" cy="357.18" r="1.25"/><circle cx="636.48" cy="370.94" r="1.25"/><circle cx="639.4" cy="370.94" r="1.25"/><circle cx="642.32" cy="370.94" r="1.25"/><circle cx="637.94" cy="384.7" r="1.25"/><circle cx="640.86" cy="384.7" r="1.25"/><circle cx="637.94" cy="398.46" r="1.25"/><circle cx="640.86" cy="398.46" r="1.25"/></g>
<path d="M477.9 315.9V453.5H665.3" stroke="#000" stroke-width="1.6" fill="none" stroke-linecap="square"/>
<path d="M472.7 453.5H477.9" stroke="#000" stroke-width="1.6"/>
<text x="471.4" y="456.9" text-anchor="end" font-size="9.5">0.0</text>
<path d="M472.7 425.98H477.9" stroke="#000" stroke-width="1.6"/>
<text x="471.4" y="429.38" text-anchor="end" font-size="9.5">0.2</text>
<path d="M472.7 398.46H477.9" stroke="#000" stroke-width="1.6"/>
<text x="471.4" y="401.86" text-anchor="end" font-size="9.5">0.4</text>
<path d="M472.7 370.94H477.9" stroke="#000" stroke-width="1.6"/>
<text x="471.4" y="374.34" text-anchor="end" font-size="9.5">0.6</text>
<path d="M472.7 343.42H477.9" stroke="#000" stroke-width="1.6"/>
<text x="471.4" y="346.82" text-anchor="end" font-size="9.5">0.8</text>
<path d="M472.7 315.9H477.9" stroke="#000" stroke-width="1.6"/>
<text x="471.4" y="319.3" text-anchor="end" font-size="9.5">1.0</text>
<path d="M521.7 453.5V458.5" stroke="#000" stroke-width="1.6"/>
<path d="M620.8 453.5V458.5" stroke="#000" stroke-width="1.6"/>
<text transform="translate(524.5 466.7) rotate(-45)" text-anchor="end">AWB::ChR2</text>
<text transform="translate(623.7 466.7) rotate(-45)" text-anchor="end">AVA::ChR2</text>
<text transform="translate(440.8 385) rotate(-90)" text-anchor="middle">Response Index</text>
<text transform="translate(453.3 385) rotate(-90)" text-anchor="middle">to Light Stim.</text>
</g>
<g font-size="10px" fill="#000">
<text x="552.6" y="247.3" text-anchor="middle">ns</text>
<text x="591.2" y="278.3" text-anchor="middle" font-size="15.5px" font-weight="bold" letter-spacing="1.85">****</text>
<text x="523.2" y="303.6" text-anchor="middle" font-size="15.5px" font-weight="bold" letter-spacing="1.85">****</text>
<text x="622.3" y="303.6" text-anchor="middle" font-size="15.5px" font-weight="bold" letter-spacing="1.85">****</text>
<rect x="671.2" y="381.4" width="12" height="5.8" fill="#d4d4d4" stroke="#000" stroke-width="1"/>
<rect x="671.2" y="397.4" width="12" height="5.8" fill="#4a92ef" stroke="#000" stroke-width="1"/>
<text x="690.6" y="387.7" font-weight="bold">no ATR</text>
<text x="690.6" y="403.7" font-weight="bold">ATR</text>
</g>
<!-- Panel C -->
<ellipse cx="77.7" cy="305.15" rx="42.7" ry="44.21" fill="#e6ebf2" stroke="#a3afc2" stroke-width="1.21"/>
<ellipse cx="77.7" cy="304.72" rx="42.12" ry="42.98" fill="none" stroke="#b4bfce" stroke-width="0.6"/>
<circle cx="77.7" cy="304.2" r="41.56" fill="#fbecc9" stroke="#c7a76c" stroke-width="0.7"/>
<circle cx="77.7" cy="304.2" r="21" fill="#efd0b0" stroke="#c98a5a" stroke-width="0.8"/>
<path d="M74.97 277.11 L75.03 277.63 L75.08 278.37 L75.16 279.24 L75.28 280.15 L75.48 281.03 L75.77 281.78 L76.22 282.41 L76.83 282.97 L77.5 283.49 L78.17 284 L78.76 284.52 L79.17 285.09 L79.42 285.71 L79.59 286.37 L79.66 287.04 L79.65 287.7 L79.56 288.34 L79.41 288.93 L79.12 289.45 L78.68 289.91 L78.16 290.35 L77.64 290.79 L77.18 291.26 L76.86 291.81 L76.65 292.44 L76.5 293.15 L76.42 293.89 L76.4 294.63 L76.46 295.35 L76.61 296.02 L76.9 296.67 L77.35 297.32 L77.87 297.96 L78.4 298.53 L78.86 299.02 L79.17 299.37M97.44 283.2 L97.28 283.64 L97.09 284.27 L96.84 285.01 L96.54 285.78 L96.19 286.49 L95.77 287.05 L95.25 287.5 L94.64 287.89 L93.98 288.23 L93.29 288.51 L92.61 288.72 L91.98 288.87 L91.39 288.89 L90.81 288.78 L90.24 288.61 L89.69 288.45 L89.17 288.36 L88.68 288.42 L88.23 288.63 L87.81 288.95 L87.41 289.34 L87.04 289.79 L86.67 290.27 L86.31 290.76 L85.98 291.31 L85.68 291.94 L85.4 292.6 L85.1 293.25 L84.74 293.84 L84.3 294.31 L83.72 294.67 L83.01 294.95 L82.24 295.17 L81.5 295.34 L80.87 295.48 L80.43 295.59M57.75 291.39 L58.07 291.7 L58.49 292.15 L59 292.68 L59.57 293.2 L60.16 293.65 L60.75 293.94 L61.37 294.08 L62.04 294.13 L62.74 294.1 L63.44 294.01 L64.09 293.87 L64.68 293.7 L65.18 293.44 L65.62 293.06 L66.02 292.64 L66.4 292.24 L66.8 291.91 L67.25 291.73 L67.74 291.7 L68.27 291.77 L68.81 291.92 L69.35 292.13 L69.87 292.38 L70.35 292.65 L70.78 292.99 L71.16 293.43 L71.52 293.91 L71.89 294.36 L72.28 294.74 L72.72 294.99 L73.25 295.07 L73.87 295.03 L74.52 294.91 L75.13 294.76 L75.65 294.62 L76.02 294.54M48.51 305.04 L49 304.79 L49.68 304.42 L50.49 303.99 L51.36 303.57 L52.24 303.24 L53.07 303.05 L53.88 303.05 L54.7 303.17 L55.54 303.38 L56.37 303.62 L57.18 303.84 L57.96 303.99 L58.71 304.1 L59.45 304.23 L60.16 304.33 L60.86 304.39 L61.53 304.37 L62.17 304.24 L62.78 303.97 L63.34 303.57 L63.88 303.1 L64.42 302.59 L64.96 302.11 L65.52 301.68 L66.1 301.28 L66.68 300.87 L67.27 300.47 L67.87 300.12 L68.48 299.85 L69.1 299.7 L69.78 299.7 L70.54 299.83 L71.31 300.04 L72.03 300.28 L72.64 300.5 L73.08 300.63M60.9 309.24 L61.3 309.35 L61.85 309.53 L62.51 309.73 L63.2 309.89 L63.88 309.98 L64.48 309.94 L65.02 309.76 L65.56 309.47 L66.08 309.11 L66.57 308.69 L67.02 308.23 L67.41 307.77 L67.71 307.25 L67.91 306.66 L68.08 306.03 L68.25 305.41 L68.48 304.85 L68.81 304.4 L69.27 304.05 L69.83 303.76 L70.45 303.54 L71.09 303.37 L71.7 303.24 L72.24 303.15 L72.73 303.15 L73.2 303.25 L73.65 303.4 L74.07 303.53 L74.45 303.59 L74.79 303.52 L75.08 303.27 L75.34 302.88 L75.56 302.41 L75.75 301.94 L75.9 301.54 L76.02 301.26M79.17 296.43 L79.63 296.41 L80.28 296.36 L81.05 296.31 L81.85 296.3 L82.63 296.36 L83.3 296.54 L83.87 296.86 L84.41 297.3 L84.91 297.82 L85.4 298.36 L85.86 298.9 L86.31 299.37 L86.73 299.82 L87.11 300.29 L87.48 300.74 L87.84 301.15 L88.24 301.49 L88.68 301.71 L89.18 301.8 L89.72 301.79 L90.29 301.7 L90.86 301.56 L91.43 301.4 L91.98 301.26 L92.51 301.09 L93.03 300.85 L93.55 300.6 L94.05 300.38 L94.55 300.24 L95.03 300.23 L95.52 300.39 L96.03 300.7 L96.53 301.1 L96.99 301.51 L97.37 301.86 L97.65 302.1M84.42 306.3 L84.68 306.57 L85.03 306.96 L85.45 307.42 L85.92 307.87 L86.4 308.24 L86.89 308.46 L87.37 308.48 L87.89 308.36 L88.43 308.16 L88.98 307.95 L89.53 307.8 L90.09 307.77 L90.68 307.86 L91.3 308 L91.93 308.2 L92.54 308.46 L93.09 308.77 L93.54 309.15 L93.87 309.62 L94.07 310.21 L94.22 310.85 L94.37 311.5 L94.58 312.1 L94.92 312.6 L95.4 313.02 L95.97 313.4 L96.61 313.73 L97.29 314 L97.97 314.19 L98.62 314.28 L99.3 314.22 L100.04 314.03 L100.78 313.75 L101.47 313.45 L102.06 313.19 L102.48 313.02M78.54 310.71 L78.9 310.59 L79.4 310.39 L80 310.18 L80.63 309.99 L81.24 309.88 L81.79 309.9 L82.28 310.06 L82.78 310.33 L83.26 310.67 L83.71 311.07 L84.1 311.51 L84.42 311.97 L84.62 312.49 L84.71 313.09 L84.74 313.73 L84.78 314.37 L84.89 314.96 L85.12 315.45 L85.49 315.85 L85.95 316.18 L86.49 316.47 L87.06 316.72 L87.64 316.97 L88.2 317.22 L88.78 317.45 L89.4 317.63 L90.03 317.8 L90.64 318 L91.19 318.25 L91.65 318.6 L92.02 319.09 L92.32 319.72 L92.56 320.41 L92.75 321.08 L92.9 321.65 L93.03 322.05M70.35 312.6 L70.36 312.96 L70.35 313.47 L70.36 314.08 L70.4 314.7 L70.51 315.27 L70.71 315.74 L71.04 316.09 L71.47 316.4 L71.96 316.65 L72.49 316.87 L73.02 317.06 L73.5 317.22 L73.97 317.32 L74.46 317.34 L74.95 317.33 L75.41 317.34 L75.82 317.41 L76.15 317.58 L76.37 317.88 L76.51 318.28 L76.59 318.73 L76.65 319.22 L76.73 319.7 L76.86 320.16 L77.02 320.62 L77.19 321.12 L77.37 321.61 L77.59 322.07 L77.84 322.47 L78.16 322.76 L78.58 322.92 L79.11 322.99 L79.69 322.99 L80.25 322.95 L80.73 322.9 L81.06 322.89M52.5 322.47 L52.86 322.2 L53.36 321.8 L53.95 321.34 L54.59 320.89 L55.25 320.51 L55.89 320.29 L56.52 320.25 L57.18 320.34 L57.86 320.51 L58.54 320.71 L59.21 320.89 L59.85 321 L60.47 321.07 L61.09 321.14 L61.7 321.19 L62.28 321.2 L62.82 321.13 L63.32 320.96 L63.76 320.66 L64.15 320.23 L64.51 319.73 L64.84 319.21 L65.17 318.71 L65.52 318.27 L65.87 317.87 L66.2 317.46 L66.54 317.06 L66.88 316.72 L67.24 316.46 L67.62 316.31 L68.07 316.3 L68.59 316.43 L69.12 316.64 L69.62 316.88 L70.05 317.09 L70.35 317.22" fill="none" stroke="#2a4a90" stroke-width="1.35" stroke-linecap="round" stroke-linejoin="round"/>
<ellipse cx="77.7" cy="446.75" rx="42.7" ry="44.21" fill="#e6ebf2" stroke="#a3afc2" stroke-width="1.21"/>
<ellipse cx="77.7" cy="446.32" rx="42.12" ry="42.98" fill="none" stroke="#b4bfce" stroke-width="0.6"/>
<circle cx="77.7" cy="445.8" r="41.56" fill="#fbecc9" stroke="#c7a76c" stroke-width="0.7"/>
<circle cx="77.7" cy="445.8" r="21" fill="#d3e4f8" stroke="#5c8fd0" stroke-width="0.8"/>
<path d="M74.97 418.71 L75.03 419.23 L75.08 419.97 L75.16 420.84 L75.28 421.75 L75.48 422.63 L75.77 423.38 L76.22 424.01 L76.83 424.57 L77.5 425.09 L78.17 425.6 L78.76 426.12 L79.17 426.69 L79.42 427.31 L79.59 427.97 L79.66 428.64 L79.65 429.3 L79.56 429.94 L79.41 430.53 L79.12 431.05 L78.68 431.51 L78.16 431.95 L77.64 432.39 L77.18 432.86 L76.86 433.41 L76.65 434.04 L76.5 434.75 L76.42 435.49 L76.4 436.23 L76.46 436.95 L76.61 437.62 L76.9 438.27 L77.35 438.92 L77.87 439.56 L78.4 440.13 L78.86 440.62 L79.17 440.97M97.44 424.8 L97.28 425.24 L97.09 425.87 L96.84 426.61 L96.54 427.38 L96.19 428.09 L95.77 428.65 L95.25 429.1 L94.64 429.49 L93.98 429.83 L93.29 430.11 L92.61 430.32 L91.98 430.47 L91.39 430.49 L90.81 430.38 L90.24 430.21 L89.69 430.05 L89.17 429.96 L88.68 430.02 L88.23 430.23 L87.81 430.55 L87.41 430.94 L87.04 431.39 L86.67 431.87 L86.31 432.36 L85.98 432.91 L85.68 433.54 L85.4 434.2 L85.1 434.85 L84.74 435.44 L84.3 435.91 L83.72 436.27 L83.01 436.55 L82.24 436.77 L81.5 436.94 L80.87 437.08 L80.43 437.19M57.75 432.99 L58.07 433.3 L58.49 433.75 L59 434.28 L59.57 434.8 L60.16 435.25 L60.75 435.54 L61.37 435.68 L62.04 435.73 L62.74 435.7 L63.44 435.61 L64.09 435.47 L64.68 435.3 L65.18 435.04 L65.62 434.66 L66.02 434.24 L66.4 433.84 L66.8 433.51 L67.25 433.33 L67.74 433.3 L68.27 433.37 L68.81 433.52 L69.35 433.73 L69.87 433.98 L70.35 434.25 L70.78 434.59 L71.16 435.03 L71.52 435.51 L71.89 435.96 L72.28 436.34 L72.72 436.59 L73.25 436.67 L73.87 436.63 L74.52 436.51 L75.13 436.36 L75.65 436.22 L76.02 436.14M48.51 446.64 L49 446.39 L49.68 446.02 L50.49 445.59 L51.36 445.17 L52.24 444.84 L53.07 444.65 L53.88 444.65 L54.7 444.77 L55.54 444.98 L56.37 445.22 L57.18 445.44 L57.96 445.59 L58.71 445.7 L59.45 445.83 L60.16 445.93 L60.86 445.99 L61.53 445.97 L62.17 445.84 L62.78 445.57 L63.34 445.17 L63.88 444.7 L64.42 444.19 L64.96 443.71 L65.52 443.28 L66.1 442.88 L66.68 442.47 L67.27 442.07 L67.87 441.72 L68.48 441.45 L69.1 441.3 L69.78 441.3 L70.54 441.43 L71.31 441.64 L72.03 441.88 L72.64 442.1 L73.08 442.23M60.9 450.84 L61.3 450.95 L61.85 451.13 L62.51 451.33 L63.2 451.49 L63.88 451.58 L64.48 451.54 L65.02 451.36 L65.56 451.07 L66.08 450.71 L66.57 450.29 L67.02 449.83 L67.41 449.37 L67.71 448.85 L67.91 448.26 L68.08 447.63 L68.25 447.01 L68.48 446.45 L68.81 446 L69.27 445.65 L69.83 445.36 L70.45 445.14 L71.09 444.97 L71.7 444.84 L72.24 444.75 L72.73 444.75 L73.2 444.85 L73.65 445 L74.07 445.13 L74.45 445.19 L74.79 445.12 L75.08 444.87 L75.34 444.48 L75.56 444.01 L75.75 443.54 L75.9 443.14 L76.02 442.86M79.17 438.03 L79.63 438.01 L80.28 437.96 L81.05 437.91 L81.85 437.9 L82.63 437.96 L83.3 438.14 L83.87 438.46 L84.41 438.9 L84.91 439.42 L85.4 439.96 L85.86 440.5 L86.31 440.97 L86.73 441.42 L87.11 441.89 L87.48 442.34 L87.84 442.75 L88.24 443.09 L88.68 443.31 L89.18 443.4 L89.72 443.39 L90.29 443.3 L90.86 443.16 L91.43 443 L91.98 442.86 L92.51 442.69 L93.03 442.45 L93.55 442.2 L94.05 441.98 L94.55 441.84 L95.03 441.83 L95.52 441.99 L96.03 442.3 L96.53 442.7 L96.99 443.11 L97.37 443.46 L97.65 443.7M84.42 447.9 L84.68 448.17 L85.03 448.56 L85.45 449.02 L85.92 449.47 L86.4 449.84 L86.89 450.06 L87.37 450.08 L87.89 449.96 L88.43 449.76 L88.98 449.55 L89.53 449.4 L90.09 449.37 L90.68 449.46 L91.3 449.6 L91.93 449.8 L92.54 450.06 L93.09 450.37 L93.54 450.75 L93.87 451.22 L94.07 451.81 L94.22 452.45 L94.37 453.1 L94.58 453.7 L94.92 454.2 L95.4 454.62 L95.97 455 L96.61 455.33 L97.29 455.6 L97.97 455.79 L98.62 455.88 L99.3 455.82 L100.04 455.63 L100.78 455.35 L101.47 455.05 L102.06 454.79 L102.48 454.62M78.54 452.31 L78.9 452.19 L79.4 451.99 L80 451.78 L80.63 451.59 L81.24 451.48 L81.79 451.5 L82.28 451.66 L82.78 451.93 L83.26 452.27 L83.71 452.67 L84.1 453.11 L84.42 453.57 L84.62 454.09 L84.71 454.69 L84.74 455.33 L84.78 455.97 L84.89 456.56 L85.12 457.05 L85.49 457.45 L85.95 457.78 L86.49 458.07 L87.06 458.32 L87.64 458.57 L88.2 458.82 L88.78 459.05 L89.4 459.23 L90.03 459.4 L90.64 459.6 L91.19 459.85 L91.65 460.2 L92.02 460.69 L92.32 461.32 L92.56 462.01 L92.75 462.68 L92.9 463.25 L93.03 463.65M70.35 454.2 L70.36 454.56 L70.35 455.07 L70.36 455.68 L70.4 456.3 L70.51 456.87 L70.71 457.34 L71.04 457.69 L71.47 458 L71.96 458.25 L72.49 458.47 L73.02 458.66 L73.5 458.82 L73.97 458.92 L74.46 458.94 L74.95 458.93 L75.41 458.94 L75.82 459.01 L76.15 459.18 L76.37 459.48 L76.51 459.88 L76.59 460.33 L76.65 460.82 L76.73 461.3 L76.86 461.76 L77.02 462.22 L77.19 462.72 L77.37 463.21 L77.59 463.67 L77.84 464.07 L78.16 464.36 L78.58 464.52 L79.11 464.59 L79.69 464.59 L80.25 464.55 L80.73 464.5 L81.06 464.49M52.5 464.07 L52.86 463.8 L53.36 463.4 L53.95 462.94 L54.59 462.49 L55.25 462.11 L55.89 461.89 L56.52 461.85 L57.18 461.94 L57.86 462.11 L58.54 462.31 L59.21 462.49 L59.85 462.6 L60.47 462.67 L61.09 462.74 L61.7 462.79 L62.28 462.8 L62.82 462.73 L63.32 462.56 L63.76 462.26 L64.15 461.83 L64.51 461.33 L64.84 460.81 L65.17 460.31 L65.52 459.87 L65.87 459.47 L66.2 459.06 L66.54 458.66 L66.88 458.32 L67.24 458.06 L67.62 457.91 L68.07 457.9 L68.59 458.03 L69.12 458.24 L69.62 458.48 L70.05 458.69 L70.35 458.82" fill="none" stroke="#2a4a90" stroke-width="1.35" stroke-linecap="round" stroke-linejoin="round"/>
<g fill="#1a1a1a">
<text x="54.4" y="252.2" font-size="16px" font-style="italic">E. coli</text>
<text x="31.2" y="398.6" font-size="15.8px" word-spacing="-0.6"><tspan font-style="italic">E. coli</tspan> + ATR</text>
<text x="142.8" y="377.8" font-size="16px">16hr</text>
<text x="173" y="415.8" font-size="16.3px">1 second</text>
<text x="101.5" y="308" font-size="11.5px">L4s</text>
<text x="101.5" y="448.6" font-size="11.5px">L4s</text>
</g>
<polygon points="79.39,352.51 80.94,354.02 82.53,355.49 84.16,356.94 85.83,358.36 87.54,359.75 89.3,361.1 91.1,362.43 92.94,363.72 94.84,364.99 96.78,366.22 98.77,367.42 100.82,368.59 102.92,369.73 105.08,370.83 107.29,371.9 109.57,372.93 111.9,373.93 114.3,374.9 116.76,375.83 119.28,376.73 121.88,377.59 124.54,378.41 127.27,379.2 130.07,379.95 132.95,380.66 135.9,381.34 138.93,381.98 142.04,382.58 145.23,383.14 148.49,383.66 151.85,384.14 155.28,384.58 158.8,384.98 162.41,385.34 166.11,385.65 169.9,385.93 173.78,386.16 177.76,386.35 181.83,386.5 186,386.6 186,383.4 181.87,383.46 177.83,383.46 173.88,383.42 170.03,383.33 166.26,383.19 162.59,383.01 159,382.78 155.5,382.5 152.08,382.18 148.74,381.81 145.49,381.39 142.32,380.93 139.22,380.43 136.2,379.88 133.26,379.3 130.39,378.66 127.59,377.99 124.86,377.27 122.21,376.52 119.62,375.72 117.09,374.89 114.64,374.01 112.24,373.09 109.91,372.14 107.64,371.15 105.42,370.12 103.27,369.05 101.17,367.95 99.13,366.81 97.13,365.64 95.19,364.43 93.3,363.19 91.46,361.91 89.67,360.61 87.92,359.26 86.22,357.89 84.56,356.48 82.94,355.05 81.35,353.58 79.81,352.09" fill="#231f20"/>
<polygon points="121.08,417.71 121.64,416.3 122.23,414.92 122.87,413.56 123.55,412.24 124.27,410.95 125.02,409.69 125.82,408.46 126.66,407.25 127.53,406.08 128.44,404.94 129.39,403.84 130.38,402.76 131.41,401.71 132.47,400.7 133.58,399.72 134.71,398.77 135.89,397.86 137.1,396.98 138.34,396.13 139.63,395.32 140.94,394.54 142.29,393.8 143.68,393.08 145.1,392.41 146.55,391.77 148.03,391.16 149.55,390.59 151.1,390.06 152.69,389.56 154.3,389.1 155.95,388.67 157.62,388.28 159.33,387.93 161.07,387.61 162.84,387.33 164.63,387.09 166.46,386.88 168.32,386.72 170.2,386.59 172.12,386.5 171.88,383.5 169.93,383.75 168,384.02 166.11,384.33 164.25,384.68 162.42,385.05 160.63,385.46 158.87,385.9 157.14,386.37 155.45,386.87 153.79,387.41 152.16,387.97 150.57,388.57 149.01,389.2 147.49,389.86 146,390.55 144.54,391.27 143.12,392.02 141.74,392.8 140.39,393.61 139.07,394.46 137.8,395.33 136.55,396.23 135.35,397.16 134.18,398.12 133.04,399.12 131.94,400.14 130.88,401.19 129.86,402.27 128.87,403.38 127.92,404.52 127.01,405.68 126.13,406.88 125.29,408.11 124.5,409.36 123.73,410.64 123.01,411.96 122.33,413.3 121.69,414.67 121.08,416.07 120.52,417.49" fill="#231f20"/>
<polygon points="183.2,378.1 199,384.9 183.2,391.7" fill="#231f20"/>
<g>
<path d="M246 238 L246.6 271" stroke="url(#cable)" stroke-width="2.6" fill="none"/>
<path d="M239.8 287 V275 a6.6 5 0 0 1 13.3 0 V287Z" fill="#222"/>
<path d="M223.6 304.3 C 213 310, 208.5 325, 207.2 345" stroke="#1a1a1a" stroke-width="1.8" fill="none"/>
<rect x="223.2" y="287" width="48.6" height="26" rx="1.2" fill="#3d3d3d"/>
<rect x="223.2" y="298.3" width="48.6" height="2.7" fill="#262626"/>
<rect x="233.5" y="312.6" width="27.6" height="8.6" fill="#2f2f2f"/>
<rect x="231.2" y="312.9" width="32" height="4.3" rx="2.1" fill="#3a3a3a"/>
<rect x="231.2" y="316.9" width="32" height="4.3" rx="2.1" fill="#3a3a3a"/>
<rect x="223.2" y="321" width="40.3" height="47.7" fill="#3b3b3b"/>
<rect x="223.2" y="321" width="40.3" height="6" fill="#474747"/>
<rect x="223.2" y="323" width="5.6" height="22" fill="#2c2c2c"/>
<polygon points="205.6,344.7 228.8,344.7 228.8,367.6 219.5,367.6 205.6,362.4" fill="#333"/>
<polygon points="208.5,346 219.5,367.6 216.5,366.5 206,350" fill="#4a4a4a"/>
<rect x="200.2" y="334.9" width="5.4" height="36.2" rx="2.6" fill="#6a6a6a"/>
<circle cx="234" cy="333.2" r="2.7" fill="#8e8e8e"/><path d="M232.3 334.9L235.7 331.5" stroke="#6d6d6d" stroke-width="0.6"/>
<circle cx="258.5" cy="362.3" r="2.7" fill="#8e8e8e"/><path d="M256.8 364L260.2 360.6" stroke="#6d6d6d" stroke-width="0.6"/>
<rect x="230.5" y="368.6" width="31" height="5.2" rx="1" fill="#6b6b6b"/>
</g>
<polygon points="244.3,373.8 250.3,373.8 253.8,440 241.8,440" fill="url(#beam)"/>
<rect x="241.3" y="373.8" width="11.8" height="11.4" rx="1" fill="#d9d9d9" fill-opacity="0.55" stroke="#c4c4c4" stroke-width="0.5"/>
<g>
<path d="M192 439.8 V455.6 A56.05 6.2 0 0 0 304.1 455.6 V439.8Z" fill="#d6eaf8" fill-opacity="0.85" stroke="#9fb4c8" stroke-width="0.7"/>
<path d="M192.6 447.4 A55.5 6 0 0 0 303.5 447.4 V455.4 A55.5 6.1 0 0 1 192.6 455.4Z" fill="#b5daf3" fill-opacity="0.85"/>
<rect x="203" y="446" width="11" height="15" fill="#e9f4fb" fill-opacity="0.55"/>
<ellipse cx="248.05" cy="447.2" rx="55.4" ry="6" fill="#cfe7f8" fill-opacity="0.9" stroke="#86bce3" stroke-width="0.7"/>
<polygon points="241.6,432 254,432 254,452 241.6,452" fill="#8fe0f8" fill-opacity="0.45"/>
<ellipse cx="248.05" cy="439.8" rx="56.05" ry="6.2" fill="#eaf3fa" fill-opacity="0.45" stroke="#8b959f" stroke-width="0.9"/>
<ellipse cx="248.05" cy="440.4" rx="54.6" ry="5.4" fill="none" stroke="#c6d3de" stroke-width="0.6"/>
<path d="M245.2 448.8 q2.3 2.9 4.7 0.6 t4.7 0.4 t4.7 -0.2 t4.4 -1.8" fill="none" stroke="#22408c" stroke-width="1.25" stroke-linecap="round"/>
</g>
<polygon points="256.9,447.6 272.4,383 320,394.4 323.2,443.3" fill="#9db2d6" fill-opacity="0.8"/>
<circle cx="320" cy="394.4" r="49" fill="#fff" stroke="#3a5ca6" stroke-width="1.1"/>
<polygon points="289.2,356.9 282.9,398.8 296.1,398.8" fill="url(#beam2)"/>
<g>
<path d="M283.6 409.6 L284.18 409.87 L284.54 409.86 L284.86 409.79 L285.16 409.67 L285.45 409.51 L285.72 409.31 L285.98 409.09 L286.22 408.83 L286.46 408.56 L286.72 408.28 L286.98 408 L287.25 407.72 L287.53 407.44 L287.81 407.17 L288.11 406.9 L288.4 406.63 L288.7 406.38 L289 406.14 L289.3 405.91 L289.61 405.7 L289.9 405.51 L290.19 405.34 L290.48 405.19 L290.76 405.06 L291.06 404.93 L291.39 404.8 L291.73 404.67 L292.08 404.55 L292.44 404.43 L292.81 404.32 L293.19 404.21 L293.58 404.1 L293.97 404.01 L294.37 403.91 L294.78 403.83 L295.19 403.74 L295.6 403.66 L296.01 403.59 L296.42 403.52 L296.84 403.46 L297.25 403.4 L297.66 403.34 L298.07 403.29 L298.47 403.25 L298.87 403.2 L299.26 403.17 L299.65 403.13 L300.03 403.1 L300.39 403.08 L300.76 403.06 L301.12 403.05 L301.49 403.04 L301.86 403.03 L302.22 403.03 L302.59 403.03 L302.96 403.03 L303.33 403.04 L303.71 403.05 L304.08 403.07 L304.45 403.09 L304.83 403.12 L305.21 403.16 L305.58 403.2 L305.96 403.24 L306.34 403.29 L306.73 403.34 L307.11 403.4 L307.49 403.46 L307.88 403.52 L308.27 403.59 L308.66 403.67 L309.04 403.74 L309.4 403.82 L309.75 403.9 L310.11 404 L310.48 404.1 L310.85 404.21 L311.22 404.32 L311.6 404.45 L311.98 404.58 L312.37 404.72 L312.76 404.86 L313.15 405 L313.55 405.15 L313.95 405.31 L314.36 405.47 L314.77 405.62 L315.18 405.79 L315.6 405.95 L316.02 406.11 L316.44 406.27 L316.87 406.43 L317.3 406.59 L317.73 406.75 L318.17 406.91 L318.6 407.05 L319 407.19 L319.38 407.32 L319.77 407.46 L320.17 407.61 L320.57 407.76 L320.97 407.92 L321.38 408.07 L321.79 408.23 L322.21 408.39 L322.63 408.56 L323.05 408.72 L323.48 408.87 L323.92 409.03 L324.36 409.18 L324.8 409.33 L325.25 409.47 L325.71 409.61 L326.17 409.74 L326.63 409.87 L327.1 409.98 L327.58 410.08 L328.06 410.17 L328.55 410.25 L329.04 410.32 L329.51 410.37 L329.98 410.41 L330.44 410.43 L330.91 410.45 L331.37 410.46 L331.83 410.47 L332.29 410.46 L332.74 410.45 L333.2 410.42 L333.65 410.39 L334.1 410.36 L334.55 410.31 L334.99 410.27 L335.44 410.21 L335.88 410.15 L336.32 410.08 L336.75 410.01 L337.19 409.94 L337.62 409.85 L338.05 409.77 L338.48 409.68 L338.91 409.59 L339.34 409.49 L339.77 409.39 L340.22 409.28 L340.68 409.16 L341.14 409.03 L341.6 408.88 L342.05 408.73 L342.5 408.58 L342.94 408.42 L343.38 408.25 L343.82 408.08 L344.26 407.9 L344.69 407.73 L345.11 407.55 L345.53 407.37 L345.95 407.19 L346.36 407.01 L346.76 406.84 L347.16 406.66 L347.55 406.49 L347.94 406.32 L348.31 406.16 L348.68 406 L349.04 405.85 L349.4 405.71 L349.75 405.57 L350.11 405.43 L350.48 405.29 L350.84 405.14 L351.19 405 L351.54 404.85 L351.87 404.71 L352.2 404.57 L352.52 404.43 L352.84 404.29 L353.15 404.15 L353.46 404.02 L353.76 403.9 L354.05 403.77 L354.35 403.66 L354.64 403.54 L354.93 403.44 L355.21 403.33 L355.49 403.24 L355.78 403.15 L356.06 403.06 L356.34 402.99 L356.62 402.92 L356.91 402.85 L357.19 402.8 L357.48 402.75 L357.78 402.71 L358.1 402.68 L358.43 402.66 L358.77 402.65 L359.12 402.65 L359.48 402.65 L359.85 402.66 L360.21 402.67 L360.58 402.69 L360.95 402.71 L361.31 402.73 L361.67 402.76 L362.01 402.79 L362.36 402.82 L362.69 402.85 L363 402.88 L363.31 402.91 L363.6 402.93 L363.87 402.96 L364.12 402.98 L364.35 403 L364.56 403.01 L364.74 403.02 L364.86 402.18 L364.7 402.14 L364.51 402.09 L364.3 402.02 L364.06 401.95 L363.81 401.87 L363.53 401.78 L363.24 401.69 L362.94 401.6 L362.61 401.5 L362.28 401.4 L361.93 401.29 L361.58 401.19 L361.22 401.09 L360.84 400.99 L360.47 400.9 L360.09 400.81 L359.7 400.73 L359.31 400.65 L358.93 400.58 L358.54 400.52 L358.15 400.47 L357.77 400.44 L357.39 400.41 L357.01 400.4 L356.65 400.41 L356.29 400.42 L355.93 400.44 L355.58 400.48 L355.23 400.52 L354.88 400.57 L354.53 400.62 L354.19 400.68 L353.84 400.75 L353.5 400.82 L353.16 400.9 L352.82 400.98 L352.48 401.06 L352.14 401.15 L351.8 401.23 L351.45 401.32 L351.11 401.41 L350.77 401.5 L350.42 401.59 L350.08 401.68 L349.73 401.77 L349.38 401.86 L349.02 401.94 L348.65 402.03 L348.26 402.12 L347.85 402.23 L347.43 402.34 L347.02 402.45 L346.6 402.57 L346.18 402.69 L345.76 402.82 L345.33 402.94 L344.91 403.07 L344.49 403.2 L344.06 403.32 L343.64 403.45 L343.22 403.57 L342.8 403.7 L342.38 403.81 L341.96 403.93 L341.55 404.04 L341.15 404.14 L340.74 404.24 L340.35 404.33 L339.96 404.41 L339.58 404.48 L339.2 404.55 L338.83 404.61 L338.44 404.66 L338.04 404.72 L337.64 404.77 L337.25 404.82 L336.85 404.87 L336.46 404.91 L336.07 404.95 L335.68 404.98 L335.3 405.02 L334.91 405.04 L334.53 405.07 L334.15 405.09 L333.77 405.1 L333.4 405.11 L333.03 405.11 L332.66 405.11 L332.29 405.1 L331.92 405.09 L331.55 405.07 L331.19 405.05 L330.83 405.01 L330.47 404.98 L330.11 404.93 L329.76 404.88 L329.42 404.83 L329.09 404.76 L328.75 404.69 L328.4 404.6 L328.04 404.5 L327.68 404.4 L327.32 404.29 L326.95 404.17 L326.57 404.04 L326.19 403.91 L325.81 403.77 L325.42 403.63 L325.02 403.48 L324.62 403.32 L324.22 403.17 L323.81 403.01 L323.4 402.85 L322.98 402.69 L322.56 402.53 L322.13 402.37 L321.7 402.21 L321.27 402.05 L320.83 401.89 L320.4 401.75 L320 401.61 L319.62 401.48 L319.23 401.34 L318.83 401.19 L318.43 401.04 L318.03 400.89 L317.63 400.73 L317.22 400.57 L316.81 400.41 L316.39 400.25 L315.97 400.08 L315.55 399.92 L315.12 399.76 L314.69 399.6 L314.26 399.44 L313.82 399.29 L313.37 399.14 L312.93 398.99 L312.48 398.85 L312.02 398.72 L311.56 398.59 L311.1 398.47 L310.63 398.36 L310.16 398.26 L309.72 398.17 L309.28 398.09 L308.84 398.01 L308.41 397.93 L307.97 397.86 L307.52 397.8 L307.08 397.74 L306.64 397.68 L306.19 397.63 L305.74 397.58 L305.3 397.54 L304.85 397.51 L304.4 397.48 L303.94 397.46 L303.49 397.44 L303.04 397.43 L302.58 397.43 L302.13 397.44 L301.67 397.45 L301.21 397.48 L300.75 397.52 L300.29 397.57 L299.83 397.63 L299.37 397.7 L298.92 397.77 L298.46 397.86 L298.01 397.96 L297.54 398.06 L297.08 398.18 L296.62 398.3 L296.15 398.43 L295.69 398.57 L295.23 398.72 L294.77 398.88 L294.31 399.04 L293.85 399.21 L293.4 399.38 L292.95 399.57 L292.51 399.76 L292.07 399.95 L291.64 400.16 L291.22 400.37 L290.8 400.58 L290.39 400.8 L289.99 401.03 L289.6 401.26 L289.22 401.5 L288.84 401.74 L288.46 402.02 L288.07 402.31 L287.71 402.62 L287.36 402.94 L287.02 403.27 L286.69 403.6 L286.37 403.94 L286.06 404.29 L285.76 404.63 L285.47 404.98 L285.18 405.32 L284.91 405.65 L284.65 405.99 L284.4 406.31 L284.15 406.62 L283.92 406.92 L283.71 407.21 L283.53 407.51 L283.4 407.81 L283.3 408.11 L283.25 408.41 L283.24 408.72 L283.29 409.04 L283.6 409.6Z" fill="#5a5759" stroke="#484648" stroke-width="0.5" stroke-linejoin="round"/>
<path d="M289.46 405.37 L290.25 404.88 L291.06 404.51 L291.94 404.16 L292.87 403.86 L293.82 403.58 L294.75 403.36 L295.72 403.15 L296.7 402.97 L297.65 402.83 L298.63 402.7 L299.58 402.6 L300.54 402.52 L301.47 402.48 L302.44 402.47 L303.39 402.48 L304.37 402.53 L305.32 402.61 L306.31 402.72 L307.27 402.86 L308.26 403.02 L309.2 403.2 L310.13 403.42 L311.03 403.68 L311.97 403.98 L312.91 404.32 L313.86 404.67 L314.82 405.04 L315.8 405.42 L316.8 405.81 L317.81 406.18 L318.81 406.53 L319.76 406.86 L320.71 407.22 L321.68 407.59 L322.66 407.97 L323.66 408.34 L324.71 408.71 L325.77 409.05 L326.9 409.36 L328.02 409.6 L329.22 409.79 L330.34 409.88 L331.51 409.93 L332.62 409.92 L333.76 409.86 L334.85 409.76 L335.96 409.62 L337.03 409.45 L338.11 409.25 L339.16 409.03 L340.27 408.77 L341.34 408.47 L342.4 408.12 L343.42 407.75 L344.41 407.36 L345.4 406.96 L346.36 406.55 L347.32 406.15 L348.26 405.76 L349.2 405.38 L350.18 405.02 L351.18 404.63 L352.15 404.23 L353.1 403.83 L354.04 403.46 L354.97 403.12 L355.91 402.83 L356.85 402.61 L357.77 402.48 L358.77 402.44" fill="none" stroke="#5ccc1f" stroke-width="0.38" stroke-linecap="round"/>
<path d="M287.73 403.09 L288.64 402.35 L289.64 401.7 L290.64 401.13 L291.64 400.64 L292.65 400.19 L293.7 399.77 L294.73 399.4 L295.78 399.07 L296.87 398.77 L297.94 398.52 L299.06 398.3 L300.17 398.14 L301.32 398.03 L302.43 397.99 L303.58 398 L304.68 398.06 L305.81 398.15 L306.9 398.28 L308 398.44 L309.07 398.62 L310.18 398.83 L311.28 399.09 L312.39 399.41 L313.44 399.75 L314.46 400.11 L315.47 400.49 L316.45 400.87 L317.42 401.25 L318.37 401.61 L319.31 401.96 L320.28 402.3 L321.31 402.66 L322.31 403.03 L323.29 403.41 L324.26 403.78 L325.21 404.15 L326.13 404.48 L327.05 404.79 L327.93 405.05 L328.84 405.27 L329.7 405.43 L330.65 405.54 L331.58 405.61 L332.55 405.64 L333.5 405.63 L334.48 405.59 L335.45 405.52 L336.45 405.42 L337.44 405.3 L338.44 405.16 L339.38 405.01 L340.34 404.81 L341.28 404.58 L342.26 404.32 L343.23 404.03 L344.21 403.73 L345.21 403.42 L346.22 403.1 L347.24 402.79 L348.28 402.5 L349.29 402.25 L350.28 401.99 L351.28 401.71 L352.3 401.43 L353.35 401.16 L354.42 400.93 L355.52 400.75 L356.64 400.65 L357.81 400.67 L358.89 400.79" fill="none" stroke="#5ccc1f" stroke-width="0.38" stroke-linecap="round"/>
<path d="M289.46 405.37Q288.65 404.19 288.51 402.45M293.92 403.56Q293.36 401.84 292.96 400.06M298.38 402.73Q298.05 400.65 297.96 398.51M304.51 402.54Q304.27 400.28 304.45 398.04M308.22 403.02Q308.94 400.87 309.44 398.69M312.95 404.33Q314.21 402.41 315.45 400.48M319.25 406.68Q320.12 404.61 320.06 402.22M323.05 408.12Q323.87 406.03 323.79 403.6M329.1 409.77Q329.13 407.56 328.84 405.27M335.6 409.67Q335.3 407.61 335.8 405.49M341.31 408.48Q340.95 406.61 340.31 404.82M346.79 406.37Q346.19 404.84 345.22 403.41M352.45 404.1Q352.51 402.7 352.29 401.43M356.78 402.63Q356.48 401.66 355.95 400.7" fill="none" stroke="#5ccc1f" stroke-width="0.38"/>
<g fill="#93e01f"><circle cx="290.07" cy="404.85" r="0.36"/><circle cx="296.95" cy="402.77" r="0.36"/><circle cx="295.81" cy="402.98" r="0.36"/><circle cx="300.96" cy="402.32" r="0.36"/><circle cx="307.28" cy="402.68" r="0.36"/><circle cx="309.69" cy="403.13" r="0.36"/><circle cx="315.99" cy="405.31" r="0.36"/><circle cx="320.91" cy="407.1" r="0.36"/><circle cx="320.06" cy="406.78" r="0.36"/><circle cx="324.76" cy="408.54" r="0.36"/><circle cx="326.73" cy="409.13" r="0.36"/><circle cx="330.54" cy="409.72" r="0.36"/><circle cx="336.5" cy="409.37" r="0.36"/><circle cx="345.06" cy="406.95" r="0.36"/><circle cx="348.11" cy="405.68" r="0.36"/><circle cx="353.38" cy="403.61" r="0.36"/><circle cx="353.26" cy="403.66" r="0.36"/><circle cx="285.39" cy="407.72" r="0.3"/><circle cx="286.53" cy="406.43" r="0.3"/><circle cx="287.61" cy="405.32" r="0.3"/></g>
</g>
<polygon points="357.1,390.8 310.78,389.85 312.9,385.6 302.3,390.9 312.9,396.2 310.78,391.95 357.1,391" fill="#231f20"/>
<g font-weight="bold" font-size="22.5px" fill="#000">
<text x="1.1" y="16.8">A</text>
<text x="481.6" y="16.8">B</text>
<text x="0.2" y="242.8">C</text>
<text x="430.9" y="242.8">D</text>
</g>
</svg>
</body></html>
